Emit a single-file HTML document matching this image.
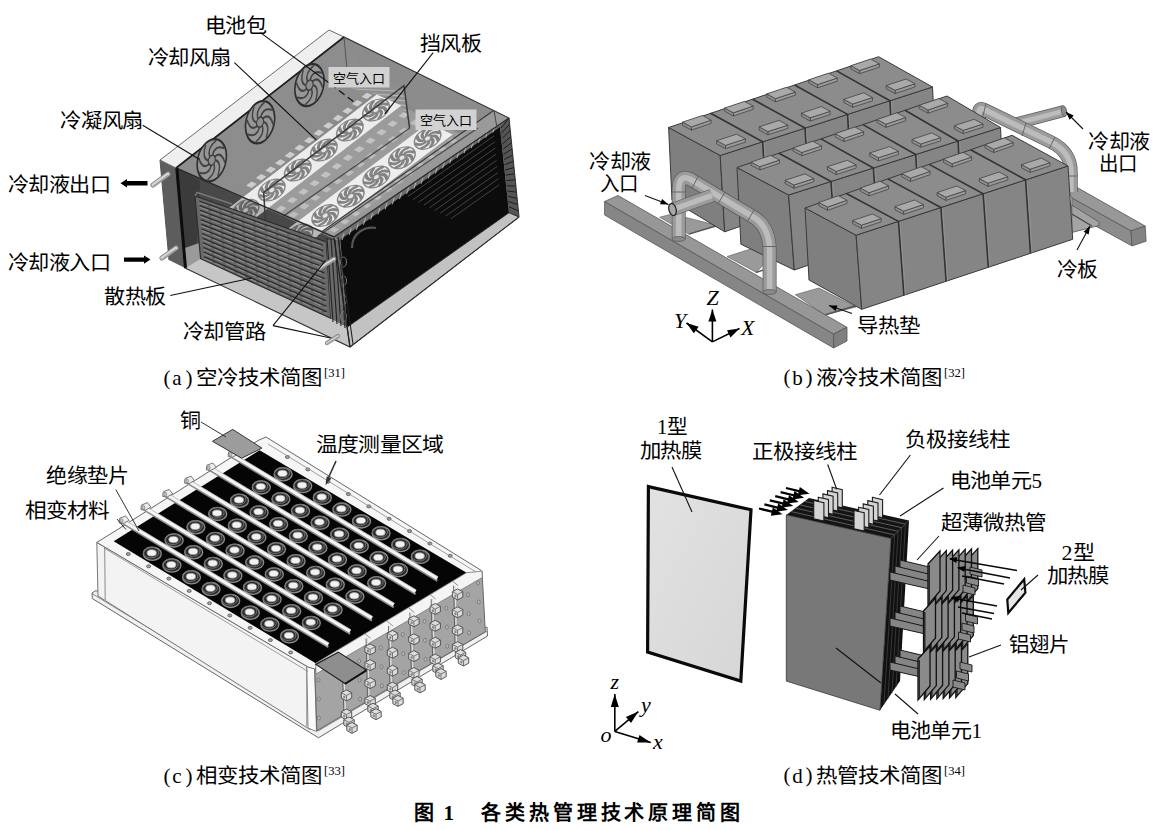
<!DOCTYPE html>
<html lang="zh-CN">
<head>
<meta charset="utf-8">
<title>图1 各类热管理技术原理简图</title>
<style>
html,body{margin:0;padding:0;background:#fff;}
body{width:1158px;height:830px;overflow:hidden;font-family:"Liberation Serif",serif;}
svg{display:block;}
.s{font-family:"Liberation Serif",serif;fill:#000;}
.si{font-family:"Liberation Serif",serif;font-style:italic;fill:#000;}
.sb{font-family:"Liberation Serif",serif;font-weight:bold;fill:#000;}
.h{font-family:"Liberation Sans",sans-serif;font-weight:bold;fill:#000;}
</style>
</head>
<body>
<svg width="1158" height="830" viewBox="0 0 1158 830">
<defs>
<g id="fanL"><circle r="10" fill="#ededed" stroke="#8a8a8a" stroke-width="1.2"/><path d="M2.6 0Q7.1 1.1 5.7 7.2M1.8 1.8Q4.3 5.8 -1.1 9.1M0 2.6Q-1.1 7.1 -7.2 5.7M-1.8 1.8Q-5.8 4.3 -9.1 -1.1M-2.6 0Q-7.1 -1.1 -5.7 -7.2M-1.8 -1.8Q-4.3 -5.8 1.1 -9.1M-0 -2.6Q1.1 -7.1 7.2 -5.7M1.8 -1.8Q5.8 -4.3 9.1 1.1" fill="none" stroke="#838383" stroke-width="2.5" stroke-linecap="round"/><circle r="2.4" fill="#e4e4e4" stroke="#8a8a8a" stroke-width="0.9"/></g>
<g id="fanD"><circle r="10" fill="#979797" stroke="#2e2e2e" stroke-width="1.1"/><path d="M2.6 0Q7.1 1.1 5.7 7.2M1.8 1.8Q4.3 5.8 -1.1 9.1M0 2.6Q-1.1 7.1 -7.2 5.7M-1.8 1.8Q-5.8 4.3 -9.1 -1.1M-2.6 0Q-7.1 -1.1 -5.7 -7.2M-1.8 -1.8Q-4.3 -5.8 1.1 -9.1M-0 -2.6Q1.1 -7.1 7.2 -5.7M1.8 -1.8Q5.8 -4.3 9.1 1.1" fill="none" stroke="#444" stroke-width="1.0" stroke-linecap="round"/><circle r="2.4" fill="#8f8f8f" stroke="#3a3a3a" stroke-width="0.8"/></g>
<linearGradient id="aTop" x1="0" y1="0" x2="1" y2="0"><stop offset="0" stop-color="#7e7e7e"/><stop offset="1" stop-color="#8e8e8e"/></linearGradient>
<clipPath id="aHR"><polygon points="350,88 404,86 410,127 401.3,105.6 376.7,94.4"/></clipPath>
<clipPath id="aBox"><polygon points="176,168 344,37 509,118 519,217 350,347 185,268"/></clipPath>
<linearGradient id="bSide" x1="0" y1="0" x2="1" y2="0"><stop offset="0" stop-color="#838383"/><stop offset="1" stop-color="#8a8a8a"/></linearGradient>
<g id="term"><ellipse cx="0.6" cy="0.8" rx="9" ry="6.6" fill="#2a2a2a" stroke="#8d8d8d" stroke-width="1.3"/><ellipse cx="-0.6" cy="-0.4" rx="7.6" ry="5.4" fill="none" stroke="#6f6f6f" stroke-width="1"/><ellipse cx="0" cy="0" rx="4.7" ry="3.2" fill="#f2f2f2" stroke="#9a9a9a" stroke-width="0.8"/></g>
<g id="hole"><ellipse rx="2" ry="1.5" fill="#a8a8a8" stroke="#4f4f4f" stroke-width="0.8"/></g>
<g id="clamp"><path d="M-5.2 -2L0 -4.8L5.2 -2L5.2 3.4L0 6.2L-5.2 3.4Z" fill="#dcdcdc" stroke="#4a4a4a" stroke-width="0.9"/><path d="M-5.2 -2L0 0.8L5.2 -2M0 0.8L0 6.2" fill="none" stroke="#5a5a5a" stroke-width="0.8"/><ellipse cx="-2.2" cy="2.2" rx="1.2" ry="1.5" fill="#8a8a8a"/></g>
<linearGradient id="dFilm" x1="0" y1="0" x2="1" y2="1"><stop offset="0" stop-color="#e2e2e2"/><stop offset="1" stop-color="#d6d6d6"/></linearGradient>
</defs>
<g id="panel_a">
<polygon points="176,168 344,37 509,118 519,217 350,347 185,268" fill="#898989"/>
<polygon points="176,168 344,37 376,92 236,200" fill="#8d8d8d"/>
<polygon points="344,37 509,118 484,134 376,92" fill="#8c8c8c"/>
<polygon points="176,168 334,239 345,332 185,268" fill="#484848"/>
<polygon points="176,168 200,181 196,255 185,268" fill="#3b3b3b"/>
<polygon points="185,248 199,243 201,259 185,268" fill="#9a9a9a"/>
<polygon points="185,268 200.6,258.7 330.8,318.2 347,327 350,347" fill="#c6c6c6"/>
<polygon points="376.7,94.4 243,197.2 330.7,235.6 463.7,135.4" fill="#9b9b9b"/>
<polygon points="350,88 404,86 410,127 401.3,105.6 376.7,94.4" fill="#8f8f8f"/>
<line x1="352" y1="89" x2="408" y2="91.5" stroke="#b4b4b4" stroke-width="1.2" clip-path="url(#aHR)"/>
<line x1="354.2" y1="92.6" x2="408" y2="96.3" stroke="#b4b4b4" stroke-width="1.2" clip-path="url(#aHR)"/>
<line x1="356.4" y1="96.2" x2="408" y2="101.1" stroke="#b4b4b4" stroke-width="1.2" clip-path="url(#aHR)"/>
<line x1="358.6" y1="99.8" x2="408" y2="105.9" stroke="#b4b4b4" stroke-width="1.2" clip-path="url(#aHR)"/>
<line x1="360.8" y1="103.4" x2="408" y2="110.7" stroke="#b4b4b4" stroke-width="1.2" clip-path="url(#aHR)"/>
<line x1="363" y1="107" x2="408" y2="115.5" stroke="#b4b4b4" stroke-width="1.2" clip-path="url(#aHR)"/>
<line x1="365.2" y1="110.6" x2="408" y2="120.3" stroke="#b4b4b4" stroke-width="1.2" clip-path="url(#aHR)"/>
<line x1="367.4" y1="114.2" x2="408" y2="125.1" stroke="#b4b4b4" stroke-width="1.2" clip-path="url(#aHR)"/>
<line x1="369.6" y1="117.8" x2="408" y2="129.9" stroke="#b4b4b4" stroke-width="1.2" clip-path="url(#aHR)"/>
<polygon points="494,110.3 509,118 334,237 322,231.5" fill="#a6a6a6" opacity="0.55"/>
<polygon points="366.8,92.7 361.6,96.7 367,99.1 372.2,95.1" fill="#cdcdcd"/>
<polygon points="357.2,100.1 352,104.1 357.4,106.5 362.6,102.5" fill="#cdcdcd"/>
<polygon points="347.6,107.4 342.3,111.5 347.7,113.9 353,109.9" fill="#cdcdcd"/>
<polygon points="337.9,114.8 332.7,118.9 338.1,121.3 343.4,117.3" fill="#cdcdcd"/>
<polygon points="328.3,122.2 323.1,126.3 328.5,128.7 333.7,124.7" fill="#cdcdcd"/>
<polygon points="318.7,129.6 313.5,133.7 318.9,136.1 324.1,132.1" fill="#cdcdcd"/>
<polygon points="309.1,137 303.9,141.1 309.3,143.5 314.5,139.5" fill="#cdcdcd"/>
<polygon points="299.5,144.4 294.2,148.5 299.7,150.9 304.9,146.9" fill="#cdcdcd"/>
<polygon points="289.9,151.8 284.6,155.9 290,158.3 295.3,154.3" fill="#cdcdcd"/>
<polygon points="280.2,159.2 275,163.3 280.4,165.7 285.6,161.7" fill="#cdcdcd"/>
<polygon points="270.6,166.6 265.4,170.6 270.8,173.1 276,169.1" fill="#cdcdcd"/>
<polygon points="261,174 255.8,178 261.2,180.5 266.4,176.5" fill="#cdcdcd"/>
<polygon points="251.4,181.4 246.1,185.4 251.6,187.9 256.8,183.9" fill="#cdcdcd"/>
<polygon points="403.6,111.9 398.5,115.9 403.9,118.3 409.1,114.4" fill="#c2c2c2"/>
<polygon points="392.5,120.5 387.3,124.4 392.7,126.9 397.9,122.9" fill="#c2c2c2"/>
<polygon points="381.4,129 376.2,132.9 381.6,135.4 386.8,131.4" fill="#c2c2c2"/>
<polygon points="370.2,137.5 365,141.4 370.5,143.9 375.6,139.9" fill="#c2c2c2"/>
<polygon points="359.1,146 353.9,150 359.3,152.4 364.5,148.5" fill="#c2c2c2"/>
<polygon points="347.9,154.5 342.8,158.5 348.2,160.9 353.3,157" fill="#c2c2c2"/>
<polygon points="336.8,163 331.6,167 337,169.4 342.2,165.5" fill="#c2c2c2"/>
<polygon points="325.6,171.6 320.5,175.5 325.9,178 331.1,174" fill="#c2c2c2"/>
<polygon points="314.5,180.1 309.3,184 314.7,186.5 319.9,182.5" fill="#c2c2c2"/>
<polygon points="303.4,188.6 298.2,192.5 303.6,195 308.8,191.1" fill="#c2c2c2"/>
<polygon points="292.2,197.1 287,201.1 292.5,203.5 297.6,199.6" fill="#c2c2c2"/>
<polygon points="281.1,205.6 275.9,209.6 281.3,212 286.5,208.1" fill="#c2c2c2"/>
<polygon points="414.9,119.3 409.8,123.2 415.2,125.7 420.4,121.7" fill="#bcbcbc"/>
<polygon points="403.9,127.7 398.7,131.6 404.1,134 409.3,130.1" fill="#bcbcbc"/>
<polygon points="392.8,136 387.6,140 393.1,142.4 398.2,138.5" fill="#bcbcbc"/>
<polygon points="381.8,144.4 376.6,148.3 382,150.8 387.2,146.9" fill="#bcbcbc"/>
<polygon points="370.7,152.8 365.5,156.7 370.9,159.2 376.1,155.3" fill="#bcbcbc"/>
<polygon points="359.6,161.2 354.5,165.1 359.9,167.6 365.1,163.6" fill="#bcbcbc"/>
<polygon points="348.6,169.6 343.4,173.5 348.8,176 354,172" fill="#bcbcbc"/>
<polygon points="337.5,177.9 332.3,181.9 337.7,184.3 342.9,180.4" fill="#bcbcbc"/>
<polygon points="326.5,186.3 321.3,190.3 326.7,192.7 331.9,188.8" fill="#bcbcbc"/>
<polygon points="315.4,194.7 310.2,198.6 315.6,201.1 320.8,197.2" fill="#bcbcbc"/>
<polygon points="304.3,203.1 299.1,207 304.6,209.5 309.7,205.6" fill="#bcbcbc"/>
<polygon points="293.3,211.5 288.1,215.4 293.5,217.9 298.7,213.9" fill="#bcbcbc"/>
<polygon points="451.8,137.8 447.4,141.1 452.8,143.5 457.2,140.2" fill="#bdbdbd"/>
<polygon points="441.1,145.9 436.7,149.2 442.1,151.6 446.5,148.3" fill="#bdbdbd"/>
<polygon points="430.3,154 425.9,157.3 431.3,159.7 435.7,156.4" fill="#bdbdbd"/>
<polygon points="419.6,162.1 415.2,165.4 420.6,167.8 425,164.5" fill="#bdbdbd"/>
<polygon points="408.8,170.2 404.4,173.5 409.8,175.9 414.2,172.6" fill="#bdbdbd"/>
<polygon points="398.1,178.3 393.7,181.6 399.1,184 403.5,180.7" fill="#bdbdbd"/>
<polygon points="387.3,186.4 382.9,189.7 388.3,192.1 392.7,188.8" fill="#bdbdbd"/>
<polygon points="376.6,194.5 372.2,197.8 377.6,200.2 382,196.9" fill="#bdbdbd"/>
<polygon points="365.8,202.6 361.4,205.9 366.8,208.3 371.2,205" fill="#bdbdbd"/>
<polygon points="355,210.7 350.7,214 356.1,216.4 360.5,213.1" fill="#bdbdbd"/>
<polygon points="344.3,218.8 339.9,222.1 345.3,224.5 349.7,221.2" fill="#bdbdbd"/>
<polygon points="333.5,226.9 329.1,230.2 334.6,232.6 339,229.3" fill="#bdbdbd"/>
<polygon points="376.7,94.4 401.3,105.6 245,225.8 220.4,214.6" fill="#ececec"/>
<polygon points="428.1,123.2 452.7,134.4 299.1,250.1 274.5,238.9" fill="#eeeeee"/>
<use href="#fanL" transform="translate(376 110) rotate(-30) scale(1.42 0.95)"/>
<use href="#fanL" transform="translate(349.9 130.1) rotate(-30) scale(1.42 0.95)"/>
<use href="#fanL" transform="translate(323.9 150.1) rotate(-30) scale(1.42 0.95)"/>
<use href="#fanL" transform="translate(297.8 170.1) rotate(-30) scale(1.42 0.95)"/>
<use href="#fanL" transform="translate(271.8 190.1) rotate(-30) scale(1.42 0.95)"/>
<use href="#fanL" transform="translate(245.7 210.2) rotate(-30) scale(1.42 0.95)"/>
<use href="#fanL" transform="translate(427.6 138.4) rotate(-30) scale(1.42 0.95)"/>
<use href="#fanL" transform="translate(402 157.7) rotate(-30) scale(1.42 0.95)"/>
<use href="#fanL" transform="translate(376.4 177) rotate(-30) scale(1.42 0.95)"/>
<use href="#fanL" transform="translate(350.8 196.3) rotate(-30) scale(1.42 0.95)"/>
<use href="#fanL" transform="translate(325.2 215.6) rotate(-30) scale(1.42 0.95)"/>
<use href="#fanL" transform="translate(299.6 234.9) rotate(-30) scale(1.42 0.95)"/>
<polygon points="243,197.2 267.9,208.2 245,225.8 220.4,214.6" fill="#000" opacity="0.22"/>
<polygon points="297.9,221.2 322.9,232.2 299.1,250.1 274.5,238.9" fill="#000" opacity="0.22"/>
<polyline points="409.6,128.3 404,85.6 263.7,192.3 265.9,228.2" fill="none" stroke="#3c3c3c" stroke-width="1.5"/>
<line x1="409.6" y1="128.3" x2="265.9" y2="228.2" stroke="#4a4a4a" stroke-width="1.3"/>
<line x1="478" y1="128" x2="318" y2="236" stroke="#4a4a4a" stroke-width="1.2"/>
<polygon points="195,196 326.4,242 330.8,318.2 200.6,258.7" fill="#686868" stroke="#2e2e2e" stroke-width="1.2"/>
<line x1="199.3" y1="201.1" x2="322.8" y2="245.1" stroke="#303030" stroke-width="1.5"/>
<line x1="199.3" y1="202.7" x2="322.8" y2="246.7" stroke="#8a8a8a" stroke-width="1.1" stroke-dasharray="9 3"/>
<line x1="199.7" y1="205.7" x2="323.2" y2="250.7" stroke="#303030" stroke-width="1.5"/>
<line x1="199.7" y1="207.3" x2="323.2" y2="252.3" stroke="#8a8a8a" stroke-width="1.1" stroke-dasharray="9 3"/>
<line x1="200.1" y1="210.4" x2="323.5" y2="256.3" stroke="#303030" stroke-width="1.5"/>
<line x1="200.1" y1="212" x2="323.5" y2="257.9" stroke="#8a8a8a" stroke-width="1.1" stroke-dasharray="9 3"/>
<line x1="200.5" y1="215" x2="323.8" y2="261.8" stroke="#303030" stroke-width="1.5"/>
<line x1="200.5" y1="216.6" x2="323.8" y2="263.4" stroke="#8a8a8a" stroke-width="1.1" stroke-dasharray="9 3"/>
<line x1="200.9" y1="219.7" x2="324.1" y2="267.4" stroke="#303030" stroke-width="1.5"/>
<line x1="200.9" y1="221.3" x2="324.1" y2="269" stroke="#8a8a8a" stroke-width="1.1" stroke-dasharray="9 3"/>
<line x1="201.3" y1="224.3" x2="324.5" y2="273" stroke="#303030" stroke-width="1.5"/>
<line x1="201.3" y1="225.9" x2="324.5" y2="274.6" stroke="#8a8a8a" stroke-width="1.1" stroke-dasharray="9 3"/>
<line x1="201.7" y1="228.9" x2="324.8" y2="278.6" stroke="#303030" stroke-width="1.5"/>
<line x1="201.7" y1="230.5" x2="324.8" y2="280.2" stroke="#8a8a8a" stroke-width="1.1" stroke-dasharray="9 3"/>
<line x1="202.1" y1="233.6" x2="325.1" y2="284.1" stroke="#303030" stroke-width="1.5"/>
<line x1="202.1" y1="235.2" x2="325.1" y2="285.7" stroke="#8a8a8a" stroke-width="1.1" stroke-dasharray="9 3"/>
<line x1="202.5" y1="238.2" x2="325.4" y2="289.7" stroke="#303030" stroke-width="1.5"/>
<line x1="202.5" y1="239.8" x2="325.4" y2="291.3" stroke="#8a8a8a" stroke-width="1.1" stroke-dasharray="9 3"/>
<line x1="203" y1="242.9" x2="325.8" y2="295.3" stroke="#303030" stroke-width="1.5"/>
<line x1="203" y1="244.5" x2="325.8" y2="296.9" stroke="#8a8a8a" stroke-width="1.1" stroke-dasharray="9 3"/>
<line x1="203.4" y1="247.5" x2="326.1" y2="300.9" stroke="#303030" stroke-width="1.5"/>
<line x1="203.4" y1="249.1" x2="326.1" y2="302.5" stroke="#8a8a8a" stroke-width="1.1" stroke-dasharray="9 3"/>
<line x1="203.8" y1="252.1" x2="326.4" y2="306.4" stroke="#303030" stroke-width="1.5"/>
<line x1="203.8" y1="253.7" x2="326.4" y2="308" stroke="#8a8a8a" stroke-width="1.1" stroke-dasharray="9 3"/>
<line x1="204.2" y1="256.8" x2="326.8" y2="312" stroke="#303030" stroke-width="1.5"/>
<line x1="204.2" y1="258.4" x2="326.8" y2="313.6" stroke="#8a8a8a" stroke-width="1.1" stroke-dasharray="9 3"/>
<polyline points="195,196 197,192.5 232,204" fill="none" stroke="#777" stroke-width="1.5"/>
<polygon points="326.4,240 340,240 347,327 330.8,318.2" fill="#6a6a6a"/>
<line x1="327" y1="238" x2="333" y2="322" stroke="#222" stroke-width="1.1"/>
<line x1="331" y1="238.8" x2="337" y2="324" stroke="#222" stroke-width="1.1"/>
<line x1="335" y1="239.6" x2="341" y2="326" stroke="#222" stroke-width="1.1"/>
<line x1="339" y1="240.4" x2="345" y2="328" stroke="#222" stroke-width="1.1"/>
<polygon points="334,237 509,118 503,127 340.4,241" fill="#6e6e6e"/>
<polygon points="340.4,239.6 500,127 509,212.7 347.1,327.2" fill="#0c0c0c"/>
<line x1="407.8" y1="196.6" x2="494.1" y2="135.8" stroke="#4a4a4a" stroke-width="0.9"/>
<line x1="413.2" y1="199.5" x2="494.7" y2="141.9" stroke="#4a4a4a" stroke-width="0.9"/>
<line x1="418.5" y1="202.3" x2="495.3" y2="148" stroke="#4a4a4a" stroke-width="0.9"/>
<line x1="423.9" y1="205.1" x2="496" y2="154.2" stroke="#4a4a4a" stroke-width="0.9"/>
<line x1="429.3" y1="207.9" x2="496.6" y2="160.3" stroke="#4a4a4a" stroke-width="0.9"/>
<line x1="434.6" y1="210.6" x2="497.2" y2="166.4" stroke="#4a4a4a" stroke-width="0.9"/>
<line x1="440" y1="213.4" x2="497.9" y2="172.6" stroke="#4a4a4a" stroke-width="0.9"/>
<line x1="445.4" y1="216.2" x2="498.5" y2="178.7" stroke="#4a4a4a" stroke-width="0.9"/>
<line x1="450.8" y1="218.9" x2="499.2" y2="184.8" stroke="#4a4a4a" stroke-width="0.9"/>
<line x1="342" y1="240" x2="344" y2="233.5" stroke="#bdbdbd" stroke-width="0.9"/>
<line x1="349.2" y1="234.9" x2="351.2" y2="228.4" stroke="#bdbdbd" stroke-width="0.9"/>
<line x1="356.4" y1="229.8" x2="358.4" y2="223.3" stroke="#bdbdbd" stroke-width="0.9"/>
<line x1="363.5" y1="224.7" x2="365.5" y2="218.2" stroke="#bdbdbd" stroke-width="0.9"/>
<line x1="370.7" y1="219.5" x2="372.7" y2="213" stroke="#bdbdbd" stroke-width="0.9"/>
<line x1="377.9" y1="214.4" x2="379.9" y2="207.9" stroke="#bdbdbd" stroke-width="0.9"/>
<line x1="385.1" y1="209.3" x2="387.1" y2="202.8" stroke="#bdbdbd" stroke-width="0.9"/>
<line x1="392.3" y1="204.2" x2="394.3" y2="197.7" stroke="#bdbdbd" stroke-width="0.9"/>
<line x1="399.5" y1="199.1" x2="401.5" y2="192.6" stroke="#bdbdbd" stroke-width="0.9"/>
<line x1="406.6" y1="194" x2="408.6" y2="187.5" stroke="#bdbdbd" stroke-width="0.9"/>
<line x1="413.8" y1="188.9" x2="415.8" y2="182.4" stroke="#bdbdbd" stroke-width="0.9"/>
<line x1="421" y1="183.8" x2="423" y2="177.2" stroke="#bdbdbd" stroke-width="0.9"/>
<line x1="428.2" y1="178.6" x2="430.2" y2="172.1" stroke="#bdbdbd" stroke-width="0.9"/>
<line x1="435.4" y1="173.5" x2="437.4" y2="167" stroke="#bdbdbd" stroke-width="0.9"/>
<line x1="442.5" y1="168.4" x2="444.5" y2="161.9" stroke="#bdbdbd" stroke-width="0.9"/>
<line x1="449.7" y1="163.3" x2="451.7" y2="156.8" stroke="#bdbdbd" stroke-width="0.9"/>
<line x1="456.9" y1="158.2" x2="458.9" y2="151.7" stroke="#bdbdbd" stroke-width="0.9"/>
<line x1="464.1" y1="153.1" x2="466.1" y2="146.6" stroke="#bdbdbd" stroke-width="0.9"/>
<line x1="471.3" y1="148" x2="473.3" y2="141.5" stroke="#bdbdbd" stroke-width="0.9"/>
<line x1="478.5" y1="142.8" x2="480.5" y2="136.3" stroke="#bdbdbd" stroke-width="0.9"/>
<line x1="485.6" y1="137.7" x2="487.6" y2="131.2" stroke="#bdbdbd" stroke-width="0.9"/>
<line x1="492.8" y1="132.6" x2="494.8" y2="126.1" stroke="#bdbdbd" stroke-width="0.9"/>
<polygon points="500,127 509,118 519,217 509,212.7" fill="#555"/>
<line x1="501" y1="128" x2="509" y2="118" stroke="#1c1c1c" stroke-width="1"/>
<line x1="501.5" y1="133.2" x2="509.6" y2="124.2" stroke="#1c1c1c" stroke-width="1"/>
<line x1="502.1" y1="138.5" x2="510.2" y2="130.4" stroke="#1c1c1c" stroke-width="1"/>
<line x1="502.6" y1="143.8" x2="510.9" y2="136.6" stroke="#1c1c1c" stroke-width="1"/>
<line x1="503.1" y1="149" x2="511.5" y2="142.8" stroke="#1c1c1c" stroke-width="1"/>
<line x1="503.7" y1="154.2" x2="512.1" y2="148.9" stroke="#1c1c1c" stroke-width="1"/>
<line x1="504.2" y1="159.5" x2="512.8" y2="155.1" stroke="#1c1c1c" stroke-width="1"/>
<line x1="504.7" y1="164.8" x2="513.4" y2="161.3" stroke="#1c1c1c" stroke-width="1"/>
<line x1="505.2" y1="170" x2="514" y2="167.5" stroke="#1c1c1c" stroke-width="1"/>
<line x1="505.8" y1="175.2" x2="514.6" y2="173.7" stroke="#1c1c1c" stroke-width="1"/>
<line x1="506.3" y1="180.5" x2="515.2" y2="179.9" stroke="#1c1c1c" stroke-width="1"/>
<line x1="506.8" y1="185.8" x2="515.9" y2="186.1" stroke="#1c1c1c" stroke-width="1"/>
<line x1="507.4" y1="191" x2="516.5" y2="192.2" stroke="#1c1c1c" stroke-width="1"/>
<line x1="507.9" y1="196.2" x2="517.1" y2="198.4" stroke="#1c1c1c" stroke-width="1"/>
<line x1="508.4" y1="201.5" x2="517.8" y2="204.6" stroke="#1c1c1c" stroke-width="1"/>
<line x1="509" y1="206.8" x2="518.4" y2="210.8" stroke="#1c1c1c" stroke-width="1"/>
<polygon points="347.1,327.2 509,212.7 519,217 350,347" fill="#c2c2c2" stroke="#2a2a2a" stroke-width="1"/>
<ellipse cx="343.5" cy="262" rx="3" ry="5" fill="none" stroke="#7a7a7a" stroke-width="1"/>
<ellipse cx="343.5" cy="280.9" rx="3" ry="5" fill="none" stroke="#7a7a7a" stroke-width="1"/>
<ellipse cx="343.5" cy="299.8" rx="3" ry="5" fill="none" stroke="#7a7a7a" stroke-width="1"/>
<ellipse cx="343.5" cy="316.6" rx="3" ry="5" fill="none" stroke="#7a7a7a" stroke-width="1"/>
<path d="M352 248C352 232 366 226 376 228" fill="none" stroke="#555" stroke-width="2.2"/>
<polyline points="176,168 344,37 509,118 519,217 350,347 185,268" fill="none" stroke="#333" stroke-width="1.1"/>
<line x1="176" y1="168" x2="334" y2="237" stroke="#2a2a2a" stroke-width="1.4"/>
<line x1="334" y1="237" x2="509" y2="118" stroke="#2a2a2a" stroke-width="1.4"/>
<line x1="322" y1="231.5" x2="494" y2="110.3" stroke="#3a3a3a" stroke-width="1.2"/>
<line x1="494" y1="110.3" x2="497" y2="128" stroke="#444" stroke-width="1"/>
<line x1="334" y1="238" x2="350" y2="347" stroke="#222" stroke-width="1.3"/>
<line x1="338" y1="237" x2="353" y2="344" stroke="#222" stroke-width="1.1"/>
<line x1="344" y1="37" x2="348" y2="80" stroke="#555" stroke-width="1"/>
<polygon points="160,160 176,168 185,268 169,260" fill="#5d5d5d"/>
<polygon points="160,160 329,30 344,37 176,168" fill="#efefef" stroke="#6a6a6a" stroke-width="1"/>
<line x1="176.8" y1="168" x2="185.5" y2="268" stroke="#0d0d0d" stroke-width="3"/>
<line x1="176" y1="168" x2="344" y2="37" stroke="#1e1e1e" stroke-width="1.6"/>
<line x1="160" y1="160" x2="169" y2="260" stroke="#555" stroke-width="1"/>
<use href="#fanD" transform="translate(211.8 160.3) rotate(-52) skewX(-22) scale(1.95 1.55)"/>
<use href="#fanD" transform="translate(260.1 122.2) rotate(-52) skewX(-22) scale(1.95 1.55)"/>
<use href="#fanD" transform="translate(309.5 85.1) rotate(-52) skewX(-22) scale(1.95 1.55)"/>
<line x1="153" y1="185" x2="168" y2="174" stroke="#8a8a8a" stroke-width="5.2" stroke-linecap="round"/><line x1="153" y1="185" x2="168" y2="174" stroke="#d8d8d8" stroke-width="3" stroke-linecap="round"/><line x1="153.3" y1="186.2" x2="168.3" y2="175.2" stroke="#a0a0a0" stroke-width="1.4"/>
<line x1="162" y1="258" x2="176" y2="248" stroke="#8a8a8a" stroke-width="5.2" stroke-linecap="round"/><line x1="162" y1="258" x2="176" y2="248" stroke="#d8d8d8" stroke-width="3" stroke-linecap="round"/><line x1="162.3" y1="259.2" x2="176.3" y2="249.2" stroke="#a0a0a0" stroke-width="1.4"/>
<line x1="320" y1="268" x2="334" y2="259" stroke="#8a8a8a" stroke-width="4.6" stroke-linecap="round"/><line x1="320" y1="268" x2="334" y2="259" stroke="#d8d8d8" stroke-width="2.4" stroke-linecap="round"/><line x1="320.3" y1="269.2" x2="334.3" y2="260.2" stroke="#a0a0a0" stroke-width="1.4"/>
<line x1="327" y1="343" x2="338" y2="336" stroke="#8a8a8a" stroke-width="4.2" stroke-linecap="round"/><line x1="327" y1="343" x2="338" y2="336" stroke="#d8d8d8" stroke-width="2" stroke-linecap="round"/><line x1="327.3" y1="344.2" x2="338.3" y2="337.2" stroke="#a0a0a0" stroke-width="1.4"/>
<path d="M120.5 183.2L127 179L127 181L147.5 181L147.5 185.4L127 185.4L127 187.4Z" fill="#000"/>
<path d="M150.5 259.6L144 255.4L144 257.4L124 257.4L124 261.8L144 261.8L144 263.8Z" fill="#000"/>
<line x1="260.4" y1="32.6" x2="336" y2="88" stroke="#111" stroke-width="1.1"/>
<line x1="339" y1="90.5" x2="356" y2="103.5" stroke="#111" stroke-width="1.3" stroke-dasharray="7 4"/>
<line x1="234.4" y1="62.6" x2="316.5" y2="140.2" stroke="#111" stroke-width="1.1"/>
<line x1="142.7" y1="125.2" x2="199.3" y2="159.3" stroke="#111" stroke-width="1.1"/>
<line x1="433.2" y1="52.6" x2="384.7" y2="114.2" stroke="#111" stroke-width="1.1"/>
<line x1="170.3" y1="295.5" x2="251.9" y2="278" stroke="#111" stroke-width="1.1"/>
<line x1="273" y1="325.6" x2="325.6" y2="260.4" stroke="#111" stroke-width="1.1"/>
<line x1="273" y1="325.6" x2="330.6" y2="338" stroke="#111" stroke-width="1.1"/>
</g>
<g id="panel_b">
<polygon points="1071.8,197.9 1131,230.8 1132,245.9 1071.8,213" fill="#8c8c8c" stroke="#555" stroke-width="0.8"/>
<polygon points="1062,181 1075.5,186.6 1145.2,226.1 1131,230.8 1071.8,197.9" fill="#989898" stroke="#555" stroke-width="0.8"/>
<polygon points="1131,230.8 1145.2,226.1 1146.1,241.2 1132,245.9" fill="#838383" stroke="#555" stroke-width="0.8"/>
<polygon points="1071.8,205 1099,222 1099,225.5 1071.8,232.5" fill="#a4a4a4" stroke="#555" stroke-width="0.8"/>
<line x1="1071.8" y1="214" x2="1092" y2="226" stroke="#444" stroke-width="1.2"/>
<polygon points="659.6,217.3 672,213.9 715.7,225.1 688.8,234.1" fill="#9a9a9a" stroke="#666" stroke-width="0.7"/>
<polygon points="727,256.5 751.7,248.7 769.6,258.8 756.1,272.3" fill="#9a9a9a" stroke="#666" stroke-width="0.7"/>
<polygon points="795.4,294.7 819,288 856,307 824.7,315" fill="#9a9a9a" stroke="#666" stroke-width="0.7"/>
<line x1="688.8" y1="234.1" x2="716" y2="226" stroke="#555" stroke-width="1.4"/>
<line x1="756" y1="272.5" x2="772" y2="267" stroke="#555" stroke-width="1.4"/>
<line x1="824.7" y1="315" x2="858" y2="305" stroke="#555" stroke-width="1.4"/>
<path d="M1014 124L1064 111" fill="none" stroke="#5a5a5a" stroke-width="11.9" stroke-linejoin="round" /><path d="M1014 124L1064 111" fill="none" stroke="#9b9b9b" stroke-width="10.5" stroke-linejoin="round" /><path d="M1014 124L1064 111" fill="none" stroke="#bcbcbc" stroke-width="4.7" stroke-linejoin="round" />
<ellipse cx="1064" cy="111" rx="2.6" ry="5.4" fill="#8c8c8c" stroke="#5a5a5a" stroke-width="0.8" transform="rotate(-12 1064 111)"/>
<path d="M979 121L979 112Q979 107 984 109.5L1051 142Q1071 152 1071 172L1071 192" fill="none" stroke="#5a5a5a" stroke-width="13.4" stroke-linejoin="round" /><path d="M979 121L979 112Q979 107 984 109.5L1051 142Q1071 152 1071 172L1071 192" fill="none" stroke="#9b9b9b" stroke-width="12" stroke-linejoin="round" /><path d="M979 121L979 112Q979 107 984 109.5L1051 142Q1071 152 1071 172L1071 192" fill="none" stroke="#bcbcbc" stroke-width="5.4" stroke-linejoin="round" />
<line x1="986" y1="103.5" x2="983" y2="116" stroke="#666" stroke-width="1"/>
<line x1="1026" y1="123" x2="1022" y2="136" stroke="#666" stroke-width="1"/>
<line x1="1055" y1="137" x2="1049" y2="149" stroke="#666" stroke-width="1"/>
<line x1="1065" y1="176" x2="1078" y2="176" stroke="#666" stroke-width="1"/>
<polygon points="668.6,127.5 720.2,155.5 724.7,231.8 672,200" fill="#7f7f7f" stroke="#3a3a3a" stroke-width="1"/>
<polygon points="720.2,155.5 932.5,87 936,158 724.7,231.8" fill="#858585" stroke="#3a3a3a" stroke-width="1"/>
<polygon points="668.6,127.5 878.6,56.7 932.5,87 720.2,155.5" fill="#8c8c8c" stroke="#3a3a3a" stroke-width="1"/>
<polyline points="710.6,113.3 762.7,141.8 767,217" fill="none" stroke="#333" stroke-width="1.6"/>
<line x1="764.3" y1="142.8" x2="768.6" y2="216.5" stroke="#929292" stroke-width="1"/>
<polyline points="752.6,99.2 805.1,128.1 809.2,202.3" fill="none" stroke="#333" stroke-width="1.6"/>
<line x1="806.7" y1="129.1" x2="810.8" y2="201.8" stroke="#929292" stroke-width="1"/>
<polyline points="794.6,85 847.6,114.4 851.5,187.5" fill="none" stroke="#333" stroke-width="1.6"/>
<line x1="849.2" y1="115.4" x2="853.1" y2="187" stroke="#929292" stroke-width="1"/>
<polyline points="836.6,70.9 890,100.7 893.7,172.8" fill="none" stroke="#333" stroke-width="1.6"/>
<line x1="891.6" y1="101.7" x2="895.3" y2="172.3" stroke="#929292" stroke-width="1"/>
<polygon points="691.4,126.9 711.1,120.2 711.1,123.4 691.4,130.1" fill="#9a9a9a" stroke="#444" stroke-width="0.8"/>
<polygon points="682.6,122.1 691.4,126.9 691.4,130.1 682.6,125.3" fill="#8e8e8e" stroke="#444" stroke-width="0.8"/>
<polygon points="682.6,122.1 702.4,115.5 711.1,120.2 691.4,126.9" fill="#a9a9a9" stroke="#444" stroke-width="0.8"/>
<polygon points="725.5,145.4 745.4,138.9 745.4,142.1 725.5,148.6" fill="#9a9a9a" stroke="#444" stroke-width="0.8"/>
<polygon points="716.7,140.7 725.5,145.4 725.5,148.6 716.7,143.9" fill="#8e8e8e" stroke="#444" stroke-width="0.8"/>
<polygon points="716.7,140.7 736.6,134.2 745.4,138.9 725.5,145.4" fill="#a9a9a9" stroke="#444" stroke-width="0.8"/>
<polygon points="733.4,112.8 753.2,106.1 753.2,109.3 733.4,116" fill="#9a9a9a" stroke="#444" stroke-width="0.8"/>
<polygon points="724.6,108 733.4,112.8 733.4,116 724.6,111.2" fill="#8e8e8e" stroke="#444" stroke-width="0.8"/>
<polygon points="724.6,108 744.4,101.4 753.2,106.1 733.4,112.8" fill="#a9a9a9" stroke="#444" stroke-width="0.8"/>
<polygon points="767.9,131.6 787.8,125.2 787.8,128.4 767.9,134.8" fill="#9a9a9a" stroke="#444" stroke-width="0.8"/>
<polygon points="759.1,126.9 767.9,131.6 767.9,134.8 759.1,130.1" fill="#8e8e8e" stroke="#444" stroke-width="0.8"/>
<polygon points="759.1,126.9 779,120.4 787.8,125.2 767.9,131.6" fill="#a9a9a9" stroke="#444" stroke-width="0.8"/>
<polygon points="775.5,98.7 795.3,92 795.3,95.2 775.5,101.9" fill="#9a9a9a" stroke="#444" stroke-width="0.8"/>
<polygon points="766.7,93.9 775.5,98.7 775.5,101.9 766.7,97.1" fill="#8e8e8e" stroke="#444" stroke-width="0.8"/>
<polygon points="766.7,93.9 786.5,87.3 795.3,92 775.5,98.7" fill="#a9a9a9" stroke="#444" stroke-width="0.8"/>
<polygon points="810.2,117.8 830.1,111.4 830.1,114.6 810.2,121" fill="#9a9a9a" stroke="#444" stroke-width="0.8"/>
<polygon points="801.5,113.1 810.2,117.8 810.2,121 801.5,116.3" fill="#8e8e8e" stroke="#444" stroke-width="0.8"/>
<polygon points="801.5,113.1 821.4,106.6 830.1,111.4 810.2,117.8" fill="#a9a9a9" stroke="#444" stroke-width="0.8"/>
<polygon points="817.6,84.6 837.3,78 837.3,81.2 817.6,87.8" fill="#9a9a9a" stroke="#444" stroke-width="0.8"/>
<polygon points="808.8,79.8 817.6,84.6 817.6,87.8 808.8,83" fill="#8e8e8e" stroke="#444" stroke-width="0.8"/>
<polygon points="808.8,79.8 828.5,73.2 837.3,78 817.6,84.6" fill="#a9a9a9" stroke="#444" stroke-width="0.8"/>
<polygon points="852.6,104 872.5,97.6 872.5,100.8 852.6,107.2" fill="#9a9a9a" stroke="#444" stroke-width="0.8"/>
<polygon points="843.8,99.3 852.6,104 852.6,107.2 843.8,102.5" fill="#8e8e8e" stroke="#444" stroke-width="0.8"/>
<polygon points="843.8,99.3 863.7,92.8 872.5,97.6 852.6,104" fill="#a9a9a9" stroke="#444" stroke-width="0.8"/>
<polygon points="859.6,70.5 879.4,63.9 879.4,67.1 859.6,73.7" fill="#9a9a9a" stroke="#444" stroke-width="0.8"/>
<polygon points="850.8,65.7 859.6,70.5 859.6,73.7 850.8,68.9" fill="#8e8e8e" stroke="#444" stroke-width="0.8"/>
<polygon points="850.8,65.7 870.6,59.1 879.4,63.9 859.6,70.5" fill="#a9a9a9" stroke="#444" stroke-width="0.8"/>
<polygon points="895,90.3 914.9,83.8 914.9,87 895,93.5" fill="#9a9a9a" stroke="#444" stroke-width="0.8"/>
<polygon points="886.2,85.5 895,90.3 895,93.5 886.2,88.7" fill="#8e8e8e" stroke="#444" stroke-width="0.8"/>
<polygon points="886.2,85.5 906.1,79 914.9,83.8 895,90.3" fill="#a9a9a9" stroke="#444" stroke-width="0.8"/>
<polygon points="737,167.5 788.6,195 794.3,270 740.9,244.2" fill="#7f7f7f" stroke="#3a3a3a" stroke-width="1"/>
<polygon points="788.6,195 1000.5,127.5 1004,198 794.3,270" fill="#858585" stroke="#3a3a3a" stroke-width="1"/>
<polygon points="737,167.5 947,96 1000.5,127.5 788.6,195" fill="#8c8c8c" stroke="#3a3a3a" stroke-width="1"/>
<polyline points="779,153.2 831,181.5 836.2,255.6" fill="none" stroke="#333" stroke-width="1.6"/>
<line x1="832.6" y1="182.5" x2="837.8" y2="255.1" stroke="#929292" stroke-width="1"/>
<polyline points="821,138.9 873.4,168 878.2,241.2" fill="none" stroke="#333" stroke-width="1.6"/>
<line x1="875" y1="169" x2="879.8" y2="240.7" stroke="#929292" stroke-width="1"/>
<polyline points="863,124.6 915.7,154.5 920.1,226.8" fill="none" stroke="#333" stroke-width="1.6"/>
<line x1="917.3" y1="155.5" x2="921.7" y2="226.3" stroke="#929292" stroke-width="1"/>
<polyline points="905,110.3 958.1,141 962.1,212.4" fill="none" stroke="#333" stroke-width="1.6"/>
<line x1="959.7" y1="142" x2="963.7" y2="211.9" stroke="#929292" stroke-width="1"/>
<polygon points="759.8,166.7 779.5,160.1 779.5,163.3 759.8,169.9" fill="#9a9a9a" stroke="#444" stroke-width="0.8"/>
<polygon points="751,162.1 759.8,166.7 759.8,169.9 751,165.3" fill="#8e8e8e" stroke="#444" stroke-width="0.8"/>
<polygon points="751,162.1 770.7,155.4 779.5,160.1 759.8,166.7" fill="#a9a9a9" stroke="#444" stroke-width="0.8"/>
<polygon points="793.9,185 813.8,178.6 813.8,181.8 793.9,188.2" fill="#9a9a9a" stroke="#444" stroke-width="0.8"/>
<polygon points="785.1,180.3 793.9,185 793.9,188.2 785.1,183.5" fill="#8e8e8e" stroke="#444" stroke-width="0.8"/>
<polygon points="785.1,180.3 805,173.9 813.8,178.6 793.9,185" fill="#a9a9a9" stroke="#444" stroke-width="0.8"/>
<polygon points="801.8,152.5 821.6,145.9 821.6,149.1 801.8,155.7" fill="#9a9a9a" stroke="#444" stroke-width="0.8"/>
<polygon points="793,147.9 801.8,152.5 801.8,155.7 793,151.1" fill="#8e8e8e" stroke="#444" stroke-width="0.8"/>
<polygon points="793,147.9 812.8,141.2 821.6,145.9 801.8,152.5" fill="#a9a9a9" stroke="#444" stroke-width="0.8"/>
<polygon points="836.2,171.4 856.1,164.9 856.1,168.1 836.2,174.6" fill="#9a9a9a" stroke="#444" stroke-width="0.8"/>
<polygon points="827.4,166.7 836.2,171.4 836.2,174.6 827.4,169.9" fill="#8e8e8e" stroke="#444" stroke-width="0.8"/>
<polygon points="827.4,166.7 847.3,160.3 856.1,164.9 836.2,171.4" fill="#a9a9a9" stroke="#444" stroke-width="0.8"/>
<polygon points="843.9,138.4 863.6,131.7 863.6,134.9 843.9,141.6" fill="#9a9a9a" stroke="#444" stroke-width="0.8"/>
<polygon points="835.1,133.7 843.9,138.4 843.9,141.6 835.1,136.9" fill="#8e8e8e" stroke="#444" stroke-width="0.8"/>
<polygon points="835.1,133.7 854.9,127 863.6,131.7 843.9,138.4" fill="#a9a9a9" stroke="#444" stroke-width="0.8"/>
<polygon points="878.5,157.7 898.4,151.3 898.4,154.5 878.5,160.9" fill="#9a9a9a" stroke="#444" stroke-width="0.8"/>
<polygon points="869.7,153 878.5,157.7 878.5,160.9 869.7,156.2" fill="#8e8e8e" stroke="#444" stroke-width="0.8"/>
<polygon points="869.7,153 889.6,146.6 898.4,151.3 878.5,157.7" fill="#a9a9a9" stroke="#444" stroke-width="0.8"/>
<polygon points="885.9,124.2 905.7,117.5 905.7,120.7 885.9,127.4" fill="#9a9a9a" stroke="#444" stroke-width="0.8"/>
<polygon points="877.1,119.5 885.9,124.2 885.9,127.4 877.1,122.7" fill="#8e8e8e" stroke="#444" stroke-width="0.8"/>
<polygon points="877.1,119.5 896.9,112.8 905.7,117.5 885.9,124.2" fill="#a9a9a9" stroke="#444" stroke-width="0.8"/>
<polygon points="920.8,144 940.7,137.6 940.7,140.8 920.8,147.2" fill="#9a9a9a" stroke="#444" stroke-width="0.8"/>
<polygon points="912,139.4 920.8,144 920.8,147.2 912,142.6" fill="#8e8e8e" stroke="#444" stroke-width="0.8"/>
<polygon points="912,139.4 931.9,132.9 940.7,137.6 920.8,144" fill="#a9a9a9" stroke="#444" stroke-width="0.8"/>
<polygon points="928,110 947.7,103.3 947.7,106.5 928,113.2" fill="#9a9a9a" stroke="#444" stroke-width="0.8"/>
<polygon points="919.2,105.3 928,110 928,113.2 919.2,108.5" fill="#8e8e8e" stroke="#444" stroke-width="0.8"/>
<polygon points="919.2,105.3 939,98.6 947.7,103.3 928,110" fill="#a9a9a9" stroke="#444" stroke-width="0.8"/>
<polygon points="963.1,130.4 983,124 983,127.2 963.1,133.6" fill="#9a9a9a" stroke="#444" stroke-width="0.8"/>
<polygon points="954.3,125.7 963.1,130.4 963.1,133.6 954.3,128.9" fill="#8e8e8e" stroke="#444" stroke-width="0.8"/>
<polygon points="954.3,125.7 974.2,119.3 983,124 963.1,130.4" fill="#a9a9a9" stroke="#444" stroke-width="0.8"/>
<polygon points="805,208 856.1,235.2 861.7,309.3 809,280" fill="#7f7f7f" stroke="#3a3a3a" stroke-width="1"/>
<polygon points="856.1,235.2 1068,166 1072.7,239.3 861.7,309.3" fill="#858585" stroke="#3a3a3a" stroke-width="1"/>
<polygon points="805,208 1012,135.3 1068,166 856.1,235.2" fill="#8c8c8c" stroke="#3a3a3a" stroke-width="1"/>
<polyline points="846.4,193.5 898.5,221.4 903.9,295.3" fill="none" stroke="#333" stroke-width="1.6"/>
<line x1="900.1" y1="222.4" x2="905.5" y2="294.8" stroke="#929292" stroke-width="1"/>
<polyline points="887.8,178.9 940.9,207.5 946.1,281.3" fill="none" stroke="#333" stroke-width="1.6"/>
<line x1="942.5" y1="208.5" x2="947.7" y2="280.8" stroke="#929292" stroke-width="1"/>
<polyline points="929.2,164.4 983.2,193.7 988.3,267.3" fill="none" stroke="#333" stroke-width="1.6"/>
<line x1="984.8" y1="194.7" x2="989.9" y2="266.8" stroke="#929292" stroke-width="1"/>
<polyline points="970.6,149.8 1025.6,179.8 1030.5,253.3" fill="none" stroke="#333" stroke-width="1.6"/>
<line x1="1027.2" y1="180.8" x2="1032.1" y2="252.8" stroke="#929292" stroke-width="1"/>
<polygon points="827.5,207.1 847,200.3 847,203.5 827.5,210.3" fill="#9a9a9a" stroke="#444" stroke-width="0.8"/>
<polygon points="818.8,202.5 827.5,207.1 827.5,210.3 818.8,205.7" fill="#8e8e8e" stroke="#444" stroke-width="0.8"/>
<polygon points="818.8,202.5 838.3,195.7 847,200.3 827.5,207.1" fill="#a9a9a9" stroke="#444" stroke-width="0.8"/>
<polygon points="861.4,225.2 881.2,218.6 881.2,221.8 861.4,228.4" fill="#9a9a9a" stroke="#444" stroke-width="0.8"/>
<polygon points="852.7,220.5 861.4,225.2 861.4,228.4 852.7,223.7" fill="#8e8e8e" stroke="#444" stroke-width="0.8"/>
<polygon points="852.7,220.5 872.5,214 881.2,218.6 861.4,225.2" fill="#a9a9a9" stroke="#444" stroke-width="0.8"/>
<polygon points="869,192.7 888.6,185.9 888.6,189.1 869,195.9" fill="#9a9a9a" stroke="#444" stroke-width="0.8"/>
<polygon points="860.4,188 869,192.7 869,195.9 860.4,191.2" fill="#8e8e8e" stroke="#444" stroke-width="0.8"/>
<polygon points="860.4,188 879.9,181.2 888.6,185.9 869,192.7" fill="#a9a9a9" stroke="#444" stroke-width="0.8"/>
<polygon points="903.6,211.2 923.4,204.6 923.4,207.8 903.6,214.4" fill="#9a9a9a" stroke="#444" stroke-width="0.8"/>
<polygon points="894.9,206.6 903.6,211.2 903.6,214.4 894.9,209.8" fill="#8e8e8e" stroke="#444" stroke-width="0.8"/>
<polygon points="894.9,206.6 914.7,200 923.4,204.6 903.6,211.2" fill="#a9a9a9" stroke="#444" stroke-width="0.8"/>
<polygon points="910.6,178.2 930.1,171.4 930.1,174.6 910.6,181.4" fill="#9a9a9a" stroke="#444" stroke-width="0.8"/>
<polygon points="901.9,173.6 910.6,178.2 910.6,181.4 901.9,176.8" fill="#8e8e8e" stroke="#444" stroke-width="0.8"/>
<polygon points="901.9,173.6 921.4,166.8 930.1,171.4 910.6,178.2" fill="#a9a9a9" stroke="#444" stroke-width="0.8"/>
<polygon points="945.8,197.2 965.6,190.6 965.6,193.8 945.8,200.4" fill="#9a9a9a" stroke="#444" stroke-width="0.8"/>
<polygon points="937.1,192.6 945.8,197.2 945.8,200.4 937.1,195.8" fill="#8e8e8e" stroke="#444" stroke-width="0.8"/>
<polygon points="937.1,192.6 956.9,186 965.6,190.6 945.8,197.2" fill="#a9a9a9" stroke="#444" stroke-width="0.8"/>
<polygon points="952.1,163.8 971.6,157 971.6,160.2 952.1,167" fill="#9a9a9a" stroke="#444" stroke-width="0.8"/>
<polygon points="943.4,159.1 952.1,163.8 952.1,167 943.4,162.3" fill="#8e8e8e" stroke="#444" stroke-width="0.8"/>
<polygon points="943.4,159.1 963,152.4 971.6,157 952.1,163.8" fill="#a9a9a9" stroke="#444" stroke-width="0.8"/>
<polygon points="988,183.2 1007.8,176.7 1007.8,179.9 988,186.4" fill="#9a9a9a" stroke="#444" stroke-width="0.8"/>
<polygon points="979.3,178.6 988,183.2 988,186.4 979.3,181.8" fill="#8e8e8e" stroke="#444" stroke-width="0.8"/>
<polygon points="979.3,178.6 999.1,172 1007.8,176.7 988,183.2" fill="#a9a9a9" stroke="#444" stroke-width="0.8"/>
<polygon points="993.7,149.3 1013.2,142.5 1013.2,145.7 993.7,152.5" fill="#9a9a9a" stroke="#444" stroke-width="0.8"/>
<polygon points="985,144.7 993.7,149.3 993.7,152.5 985,147.9" fill="#8e8e8e" stroke="#444" stroke-width="0.8"/>
<polygon points="985,144.7 1004.5,137.9 1013.2,142.5 993.7,149.3" fill="#a9a9a9" stroke="#444" stroke-width="0.8"/>
<polygon points="1030.1,169.2 1050,162.7 1050,165.9 1030.1,172.4" fill="#9a9a9a" stroke="#444" stroke-width="0.8"/>
<polygon points="1021.5,164.6 1030.1,169.2 1030.1,172.4 1021.5,167.8" fill="#8e8e8e" stroke="#444" stroke-width="0.8"/>
<polygon points="1021.5,164.6 1041.3,158.1 1050,162.7 1030.1,169.2" fill="#a9a9a9" stroke="#444" stroke-width="0.8"/>
<polygon points="604.6,201.5 833.6,334 833.6,348 604.6,215" fill="#868686" stroke="#555" stroke-width="0.8"/>
<polygon points="604.6,201.5 618,195.5 847,327.3 833.6,334" fill="#979797" stroke="#555" stroke-width="0.8"/>
<polygon points="833.6,334 847,327.3 847,341 833.6,348" fill="#808080" stroke="#555" stroke-width="0.8"/>
<path d="M678.7 239L678.7 190" fill="none" stroke="#5a5a5a" stroke-width="13.9" stroke-linejoin="round" /><path d="M678.7 239L678.7 190" fill="none" stroke="#9b9b9b" stroke-width="12.5" stroke-linejoin="round" /><path d="M678.7 239L678.7 190" fill="none" stroke="#bcbcbc" stroke-width="5.6" stroke-linejoin="round" />
<ellipse cx="678.7" cy="239" rx="6.6" ry="2.4" fill="#8a8a8a" stroke="#5a5a5a" stroke-width="0.8"/>
<path d="M769.6 292L769.6 250Q769.6 225 750 215L692.5 180.5Q678.7 172 678.7 190" fill="none" stroke="#5a5a5a" stroke-width="13.9" stroke-linejoin="round" /><path d="M769.6 292L769.6 250Q769.6 225 750 215L692.5 180.5Q678.7 172 678.7 190" fill="none" stroke="#9b9b9b" stroke-width="12.5" stroke-linejoin="round" /><path d="M769.6 292L769.6 250Q769.6 225 750 215L692.5 180.5Q678.7 172 678.7 190" fill="none" stroke="#bcbcbc" stroke-width="5.6" stroke-linejoin="round" />
<ellipse cx="769.6" cy="292" rx="6.6" ry="2.4" fill="#8a8a8a" stroke="#5a5a5a" stroke-width="0.8"/>
<path d="M674 209L712 195.5" fill="none" stroke="#5a5a5a" stroke-width="13.4" stroke-linejoin="round" /><path d="M674 209L712 195.5" fill="none" stroke="#9b9b9b" stroke-width="12" stroke-linejoin="round" /><path d="M674 209L712 195.5" fill="none" stroke="#bcbcbc" stroke-width="5.4" stroke-linejoin="round" />
<ellipse cx="672.5" cy="209.5" rx="3.6" ry="6.2" fill="#a8a8a8" stroke="#222" stroke-width="1.3" transform="rotate(-15 672.5 209.5)"/>
<line x1="672" y1="192" x2="685.5" y2="192" stroke="#666" stroke-width="1"/>
<line x1="698" y1="176.5" x2="692" y2="188.5" stroke="#666" stroke-width="1"/>
<line x1="725" y1="192" x2="718" y2="204" stroke="#666" stroke-width="1"/>
<line x1="754" y1="210" x2="747" y2="222" stroke="#666" stroke-width="1"/>
<line x1="763" y1="246.5" x2="776.5" y2="246.5" stroke="#666" stroke-width="1"/>
<line x1="712.4" y1="341.9" x2="712.4" y2="309.5" stroke="#000" stroke-width="1.6"/>
<polygon points="712.4,309.5 716.4,321.5 708.4,321.5" fill="#000"/>
<line x1="712.4" y1="341.9" x2="686.5" y2="323" stroke="#000" stroke-width="1.6"/>
<polygon points="686.5,323 698.6,326.8 693.8,333.3" fill="#000"/>
<line x1="712.4" y1="341.9" x2="739.5" y2="328.5" stroke="#000" stroke-width="1.6"/>
<polygon points="739.5,328.5 730.5,337.4 727,330.2" fill="#000"/>
<line x1="645" y1="195.5" x2="668.5" y2="204.5" stroke="#111" stroke-width="1.1"/><polygon points="668.5,204.5 660,204.3 662.1,198.9" fill="#000"/>
<line x1="1083" y1="129" x2="1066" y2="112" stroke="#111" stroke-width="1.1"/><polygon points="1066,112 1073.7,115.6 1069.6,119.7" fill="#000"/>
<line x1="1077" y1="250" x2="1090" y2="226" stroke="#111" stroke-width="1.1"/><polygon points="1090,226 1088.7,234.4 1083.6,231.7" fill="#000"/>
<line x1="852" y1="313.5" x2="829" y2="305.5" stroke="#111" stroke-width="1.1"/><polygon points="829,305.5 837.5,305.4 835.6,310.9" fill="#000"/>
</g>
<g id="panel_c">
<polygon points="92,593 96,590.5 318,726 487,627 487.5,636 318.5,737.8 92.3,598.5" fill="#f1f1f1" stroke="#666" stroke-width="1"/>
<polyline points="92,593.5 318,731 487,631" fill="none" stroke="#777" stroke-width="0.9"/>
<polygon points="96.8,542.4 310,668 310,729.5 98,596" fill="#f3f3f3" stroke="#777" stroke-width="1"/>
<line x1="104.7" y1="547" x2="105.2" y2="600" stroke="#8a8a8a" stroke-width="1"/>
<line x1="306.8" y1="667" x2="306.8" y2="726" stroke="#8a8a8a" stroke-width="1"/>
<polygon points="306.8,665.5 314.7,667.8 316.5,731.5 308,728" fill="#fafafa" stroke="#777" stroke-width="0.9"/>
<polygon points="314.7,667.8 482,571.2 485.3,631.8 316.9,730.6" fill="#a4a4a4" stroke="#666" stroke-width="1"/>
<polygon points="96.8,542.4 112,533 120,528 258,440.5 266,437 481.2,570.4 482,573 314.7,669 308,667" fill="#f6f6f6" stroke="#666" stroke-width="1"/>
<polygon points="113.7,541.2 259.6,450.3 466.6,572.7 315.7,663.3" fill="#050505"/>
<use href="#hole" x="128.3" y="554"/>
<use href="#hole" x="148.6" y="566.3"/>
<use href="#hole" x="168.9" y="578.6"/>
<use href="#hole" x="189.2" y="590.9"/>
<use href="#hole" x="209.5" y="603.2"/>
<use href="#hole" x="229.8" y="615.5"/>
<use href="#hole" x="250.1" y="627.8"/>
<use href="#hole" x="270.4" y="640.1"/>
<use href="#hole" x="290.7" y="652.4"/>
<use href="#hole" x="287.4" y="457"/>
<use href="#hole" x="307.8" y="469.4"/>
<use href="#hole" x="328.1" y="481.7"/>
<use href="#hole" x="348.4" y="494.1"/>
<use href="#hole" x="368.8" y="506.4"/>
<use href="#hole" x="389.1" y="518.8"/>
<use href="#hole" x="409.5" y="531.1"/>
<use href="#hole" x="429.9" y="543.5"/>
<use href="#hole" x="450.2" y="555.8"/>
<line x1="104" y1="548" x2="308" y2="671.5" stroke="#888" stroke-width="0.8"/>
<line x1="268" y1="444" x2="476" y2="572" stroke="#888" stroke-width="0.8"/>
<use href="#term" x="282.5" y="473.4"/>
<use href="#term" x="302.1" y="485.2"/>
<use href="#term" x="321.7" y="497"/>
<use href="#term" x="341.3" y="508.8"/>
<use href="#term" x="360.9" y="520.6"/>
<use href="#term" x="380.5" y="532.4"/>
<use href="#term" x="400.1" y="544.2"/>
<use href="#term" x="419.7" y="556"/>
<use href="#term" x="260.7" y="486.6"/>
<use href="#term" x="280.3" y="498.4"/>
<use href="#term" x="299.9" y="510.2"/>
<use href="#term" x="319.5" y="522"/>
<use href="#term" x="339.1" y="533.9"/>
<use href="#term" x="358.7" y="545.6"/>
<use href="#term" x="378.3" y="557.5"/>
<use href="#term" x="397.9" y="569.2"/>
<use href="#term" x="238.9" y="499.9"/>
<use href="#term" x="258.5" y="511.7"/>
<use href="#term" x="278.1" y="523.5"/>
<use href="#term" x="297.7" y="535.3"/>
<use href="#term" x="317.3" y="547.1"/>
<use href="#term" x="336.9" y="558.9"/>
<use href="#term" x="356.5" y="570.7"/>
<use href="#term" x="376.1" y="582.5"/>
<use href="#term" x="217.1" y="513.1"/>
<use href="#term" x="236.7" y="524.9"/>
<use href="#term" x="256.3" y="536.8"/>
<use href="#term" x="275.9" y="548.5"/>
<use href="#term" x="295.5" y="560.4"/>
<use href="#term" x="315.1" y="572.1"/>
<use href="#term" x="334.7" y="584"/>
<use href="#term" x="354.3" y="595.8"/>
<use href="#term" x="195.3" y="526.4"/>
<use href="#term" x="214.9" y="538.2"/>
<use href="#term" x="234.5" y="550"/>
<use href="#term" x="254.1" y="561.8"/>
<use href="#term" x="273.7" y="573.6"/>
<use href="#term" x="293.3" y="585.4"/>
<use href="#term" x="312.9" y="597.2"/>
<use href="#term" x="332.5" y="609"/>
<use href="#term" x="173.5" y="539.6"/>
<use href="#term" x="193.1" y="551.4"/>
<use href="#term" x="212.7" y="563.2"/>
<use href="#term" x="232.3" y="575"/>
<use href="#term" x="251.9" y="586.9"/>
<use href="#term" x="271.5" y="598.6"/>
<use href="#term" x="291.1" y="610.5"/>
<use href="#term" x="310.7" y="622.2"/>
<use href="#term" x="151.7" y="552.9"/>
<use href="#term" x="171.3" y="564.7"/>
<use href="#term" x="190.9" y="576.5"/>
<use href="#term" x="210.5" y="588.3"/>
<use href="#term" x="230.1" y="600.1"/>
<use href="#term" x="249.7" y="611.9"/>
<use href="#term" x="269.3" y="623.7"/>
<use href="#term" x="288.9" y="635.5"/>
<line x1="229.3" y1="455.6" x2="437.4" y2="580.9" stroke="#8c8c8c" stroke-width="2.2"/>
<line x1="229.3" y1="453" x2="437.4" y2="578.3" stroke="#f5f5f5" stroke-width="3.6"/>
<line x1="229.3" y1="451.1" x2="437.4" y2="576.4" stroke="#b0b0b0" stroke-width="0.8"/>
<polygon points="228.6,452.1 234.6,449.6 238.1,454.1 232.6,457.1 228.1,456.6" fill="#ececec" stroke="#6a6a6a" stroke-width="0.9"/>
<ellipse cx="230.6" cy="454.4" rx="1.4" ry="1.9" fill="#c8c8c8" stroke="#777" stroke-width="0.7"/>
<line x1="207.5" y1="468.9" x2="415.6" y2="594.1" stroke="#8c8c8c" stroke-width="2.2"/>
<line x1="207.5" y1="466.3" x2="415.6" y2="591.5" stroke="#f5f5f5" stroke-width="3.6"/>
<line x1="207.5" y1="464.4" x2="415.6" y2="589.6" stroke="#b0b0b0" stroke-width="0.8"/>
<polygon points="206.8,465.4 212.8,462.9 216.3,467.4 210.8,470.4 206.3,469.9" fill="#ececec" stroke="#6a6a6a" stroke-width="0.9"/>
<ellipse cx="208.8" cy="467.7" rx="1.4" ry="1.9" fill="#c8c8c8" stroke="#777" stroke-width="0.7"/>
<line x1="185.7" y1="482.1" x2="393.8" y2="607.4" stroke="#8c8c8c" stroke-width="2.2"/>
<line x1="185.7" y1="479.5" x2="393.8" y2="604.8" stroke="#f5f5f5" stroke-width="3.6"/>
<line x1="185.7" y1="477.6" x2="393.8" y2="602.9" stroke="#b0b0b0" stroke-width="0.8"/>
<polygon points="185,478.6 191,476.1 194.5,480.6 189,483.6 184.5,483.1" fill="#ececec" stroke="#6a6a6a" stroke-width="0.9"/>
<ellipse cx="187" cy="480.9" rx="1.4" ry="1.9" fill="#c8c8c8" stroke="#777" stroke-width="0.7"/>
<line x1="163.9" y1="495.4" x2="372" y2="620.6" stroke="#8c8c8c" stroke-width="2.2"/>
<line x1="163.9" y1="492.8" x2="372" y2="618" stroke="#f5f5f5" stroke-width="3.6"/>
<line x1="163.9" y1="490.9" x2="372" y2="616.1" stroke="#b0b0b0" stroke-width="0.8"/>
<polygon points="163.2,491.9 169.2,489.4 172.7,493.9 167.2,496.9 162.7,496.4" fill="#ececec" stroke="#6a6a6a" stroke-width="0.9"/>
<ellipse cx="165.2" cy="494.2" rx="1.4" ry="1.9" fill="#c8c8c8" stroke="#777" stroke-width="0.7"/>
<line x1="142.1" y1="508.6" x2="350.2" y2="633.9" stroke="#8c8c8c" stroke-width="2.2"/>
<line x1="142.1" y1="506" x2="350.2" y2="631.3" stroke="#f5f5f5" stroke-width="3.6"/>
<line x1="142.1" y1="504.1" x2="350.2" y2="629.4" stroke="#b0b0b0" stroke-width="0.8"/>
<polygon points="141.4,505.1 147.4,502.6 150.9,507.1 145.4,510.1 140.9,509.6" fill="#ececec" stroke="#6a6a6a" stroke-width="0.9"/>
<ellipse cx="143.4" cy="507.4" rx="1.4" ry="1.9" fill="#c8c8c8" stroke="#777" stroke-width="0.7"/>
<line x1="120.3" y1="521.9" x2="328.4" y2="647.1" stroke="#8c8c8c" stroke-width="2.2"/>
<line x1="120.3" y1="519.3" x2="328.4" y2="644.5" stroke="#f5f5f5" stroke-width="3.6"/>
<line x1="120.3" y1="517.4" x2="328.4" y2="642.6" stroke="#b0b0b0" stroke-width="0.8"/>
<polygon points="119.6,518.4 125.6,515.9 129.1,520.4 123.6,523.4 119.1,522.9" fill="#ececec" stroke="#6a6a6a" stroke-width="0.9"/>
<ellipse cx="121.6" cy="520.7" rx="1.4" ry="1.9" fill="#c8c8c8" stroke="#777" stroke-width="0.7"/>
<polygon points="212.5,441.3 232.7,429.4 261.9,448.1 241.7,458.2" fill="#9c9c9c" stroke="#333" stroke-width="1"/>
<polygon points="315.7,663.3 466.6,572.7 482,571.2 482.3,577.5 316,674" fill="#f4f4f4" stroke="#777" stroke-width="0.8"/>
<line x1="342.5" y1="675.5" x2="344" y2="715.7" stroke="#5a5a5a" stroke-width="0.9"/>
<line x1="344" y1="675.5" x2="345.5" y2="715.7" stroke="#e0e0e0" stroke-width="1.3"/>
<line x1="341" y1="670.5" x2="347" y2="675.5" stroke="#777" stroke-width="0.8"/>
<use href="#clamp" x="346.5" y="694.7"/>
<use href="#clamp" x="346.5" y="713.8"/>
<use href="#clamp" x="349" y="721.7"/>
<use href="#clamp" x="352" y="727.2"/>
<line x1="366.1" y1="638.4" x2="367.6" y2="702" stroke="#5a5a5a" stroke-width="0.9"/>
<line x1="367.6" y1="638.4" x2="369.1" y2="702" stroke="#e0e0e0" stroke-width="1.3"/>
<line x1="364.6" y1="633.4" x2="370.6" y2="638.4" stroke="#777" stroke-width="0.8"/>
<use href="#clamp" x="370.1" y="648.7"/>
<use href="#clamp" x="370.1" y="664.4"/>
<use href="#clamp" x="370.1" y="682.4"/>
<use href="#clamp" x="370.1" y="700.3"/>
<use href="#clamp" x="373" y="708"/>
<use href="#clamp" x="376" y="713.5"/>
<line x1="388.5" y1="626.1" x2="390" y2="688.7" stroke="#5a5a5a" stroke-width="0.9"/>
<line x1="390" y1="626.1" x2="391.5" y2="688.7" stroke="#e0e0e0" stroke-width="1.3"/>
<line x1="387" y1="621.1" x2="393" y2="626.1" stroke="#777" stroke-width="0.8"/>
<use href="#clamp" x="392.5" y="635.2"/>
<use href="#clamp" x="392.5" y="652"/>
<use href="#clamp" x="392.5" y="670"/>
<use href="#clamp" x="392.5" y="686.9"/>
<use href="#clamp" x="395" y="694.7"/>
<use href="#clamp" x="398" y="700.2"/>
<line x1="409.9" y1="612.6" x2="411.4" y2="675.2" stroke="#5a5a5a" stroke-width="0.9"/>
<line x1="411.4" y1="612.6" x2="412.9" y2="675.2" stroke="#e0e0e0" stroke-width="1.3"/>
<line x1="408.4" y1="607.6" x2="414.4" y2="612.6" stroke="#777" stroke-width="0.8"/>
<use href="#clamp" x="413.9" y="620.6"/>
<use href="#clamp" x="413.9" y="638.6"/>
<use href="#clamp" x="413.9" y="655.4"/>
<use href="#clamp" x="413.9" y="672.3"/>
<use href="#clamp" x="417" y="681.2"/>
<use href="#clamp" x="420" y="686.7"/>
<line x1="431.2" y1="599.1" x2="432.7" y2="661.8" stroke="#5a5a5a" stroke-width="0.9"/>
<line x1="432.7" y1="599.1" x2="434.2" y2="661.8" stroke="#e0e0e0" stroke-width="1.3"/>
<line x1="429.7" y1="594.1" x2="435.7" y2="599.1" stroke="#777" stroke-width="0.8"/>
<use href="#clamp" x="435.2" y="608.3"/>
<use href="#clamp" x="435.2" y="625.1"/>
<use href="#clamp" x="435.2" y="642"/>
<use href="#clamp" x="435.2" y="658.8"/>
<use href="#clamp" x="438" y="667.8"/>
<use href="#clamp" x="441" y="673.3"/>
<line x1="453.6" y1="585.7" x2="455.1" y2="648.3" stroke="#5a5a5a" stroke-width="0.9"/>
<line x1="455.1" y1="585.7" x2="456.6" y2="648.3" stroke="#e0e0e0" stroke-width="1.3"/>
<line x1="452.1" y1="580.7" x2="458.1" y2="585.7" stroke="#777" stroke-width="0.8"/>
<use href="#clamp" x="457.6" y="593.7"/>
<use href="#clamp" x="457.6" y="611.6"/>
<use href="#clamp" x="457.6" y="629.6"/>
<use href="#clamp" x="457.6" y="646.4"/>
<use href="#clamp" x="460.5" y="654.3"/>
<use href="#clamp" x="463.5" y="659.8"/>
<polygon points="315.8,664.4 338.3,652.1 366.3,670 345,683.5" fill="#8e8e8e" stroke="#222" stroke-width="1.2"/>
<line x1="345" y1="684" x2="366.5" y2="670.5" stroke="#111" stroke-width="1.6"/>
<ellipse cx="468.1" cy="594.8" rx="1.5" ry="2" fill="#b8b8b8" stroke="#6a6a6a" stroke-width="0.7"/>
<ellipse cx="468.6" cy="613.8" rx="1.5" ry="2" fill="#b8b8b8" stroke="#6a6a6a" stroke-width="0.7"/>
<ellipse cx="469.1" cy="632.8" rx="1.5" ry="2" fill="#b8b8b8" stroke="#6a6a6a" stroke-width="0.7"/>
<ellipse cx="446.3" cy="608.1" rx="1.5" ry="2" fill="#b8b8b8" stroke="#6a6a6a" stroke-width="0.7"/>
<ellipse cx="446.8" cy="627.1" rx="1.5" ry="2" fill="#b8b8b8" stroke="#6a6a6a" stroke-width="0.7"/>
<ellipse cx="447.3" cy="646.1" rx="1.5" ry="2" fill="#b8b8b8" stroke="#6a6a6a" stroke-width="0.7"/>
<ellipse cx="424.5" cy="621.3" rx="1.5" ry="2" fill="#b8b8b8" stroke="#6a6a6a" stroke-width="0.7"/>
<ellipse cx="425" cy="640.3" rx="1.5" ry="2" fill="#b8b8b8" stroke="#6a6a6a" stroke-width="0.7"/>
<ellipse cx="425.5" cy="659.3" rx="1.5" ry="2" fill="#b8b8b8" stroke="#6a6a6a" stroke-width="0.7"/>
<ellipse cx="402.7" cy="634.6" rx="1.5" ry="2" fill="#b8b8b8" stroke="#6a6a6a" stroke-width="0.7"/>
<ellipse cx="403.2" cy="653.6" rx="1.5" ry="2" fill="#b8b8b8" stroke="#6a6a6a" stroke-width="0.7"/>
<ellipse cx="403.7" cy="672.6" rx="1.5" ry="2" fill="#b8b8b8" stroke="#6a6a6a" stroke-width="0.7"/>
<ellipse cx="380.9" cy="647.8" rx="1.5" ry="2" fill="#b8b8b8" stroke="#6a6a6a" stroke-width="0.7"/>
<ellipse cx="381.4" cy="666.8" rx="1.5" ry="2" fill="#b8b8b8" stroke="#6a6a6a" stroke-width="0.7"/>
<ellipse cx="381.9" cy="685.8" rx="1.5" ry="2" fill="#b8b8b8" stroke="#6a6a6a" stroke-width="0.7"/>
<ellipse cx="359.1" cy="661.1" rx="1.5" ry="2" fill="#b8b8b8" stroke="#6a6a6a" stroke-width="0.7"/>
<ellipse cx="359.6" cy="680.1" rx="1.5" ry="2" fill="#b8b8b8" stroke="#6a6a6a" stroke-width="0.7"/>
<ellipse cx="360.1" cy="699.1" rx="1.5" ry="2" fill="#b8b8b8" stroke="#6a6a6a" stroke-width="0.7"/>
<ellipse cx="478" cy="583" rx="1.5" ry="2" fill="#b8b8b8" stroke="#6a6a6a" stroke-width="0.7"/>
<ellipse cx="318.5" cy="680" rx="1.5" ry="2" fill="#b8b8b8" stroke="#6a6a6a" stroke-width="0.7"/>
<ellipse cx="478.8" cy="602" rx="1.5" ry="2" fill="#b8b8b8" stroke="#6a6a6a" stroke-width="0.7"/>
<ellipse cx="318.7" cy="699" rx="1.5" ry="2" fill="#b8b8b8" stroke="#6a6a6a" stroke-width="0.7"/>
<ellipse cx="479.6" cy="621" rx="1.5" ry="2" fill="#b8b8b8" stroke="#6a6a6a" stroke-width="0.7"/>
<ellipse cx="318.9" cy="718" rx="1.5" ry="2" fill="#b8b8b8" stroke="#6a6a6a" stroke-width="0.7"/>
<line x1="201" y1="422" x2="226" y2="437" stroke="#333" stroke-width="1"/>
<line x1="115.8" y1="489.5" x2="139" y2="531" stroke="#333" stroke-width="1"/>
<line x1="117" y1="519" x2="126" y2="529.5" stroke="#333" stroke-width="1"/>
<line x1="336" y1="461" x2="327" y2="481" stroke="#333" stroke-width="1.6"/>
<polygon points="325.5,485.5 326.7,476.2 331.4,478.3" fill="#333"/>
</g>
<g id="panel_d">
<polygon points="648.4,486.6 751,509.8 740.8,681 647.6,652" fill="url(#dFilm)" stroke="#0a0a0a" stroke-width="3.2" stroke-linejoin="miter"/>
<polygon points="891,538.5 909,520.5 900,681 880,710.3" fill="#101010"/>
<line x1="894.6" y1="534.9" x2="884" y2="704.4" stroke="#3a3a3a" stroke-width="0.9"/>
<line x1="898.2" y1="531.3" x2="888" y2="698.6" stroke="#3a3a3a" stroke-width="0.9"/>
<line x1="901.8" y1="527.7" x2="892" y2="692.7" stroke="#3a3a3a" stroke-width="0.9"/>
<line x1="905.4" y1="524.1" x2="896" y2="686.9" stroke="#3a3a3a" stroke-width="0.9"/>
<polygon points="900,560 942,570 942,577.5 900,568" fill="#858585" stroke="#1a1a1a" stroke-width="1"/>
<polygon points="895,566 937,576 937,583.5 895,574" fill="#858585" stroke="#1a1a1a" stroke-width="1"/>
<polygon points="890,572 932,582 932,589.5 890,580" fill="#858585" stroke="#1a1a1a" stroke-width="1"/>
<polygon points="900,606 942,616 942,623.5 900,614" fill="#858585" stroke="#1a1a1a" stroke-width="1"/>
<polygon points="895,612 937,622 937,629.5 895,620" fill="#858585" stroke="#1a1a1a" stroke-width="1"/>
<polygon points="890,618 932,628 932,635.5 890,626" fill="#858585" stroke="#1a1a1a" stroke-width="1"/>
<polygon points="900,650 942,660 942,667.5 900,658" fill="#858585" stroke="#1a1a1a" stroke-width="1"/>
<polygon points="895,656 937,666 937,673.5 895,664" fill="#858585" stroke="#1a1a1a" stroke-width="1"/>
<polygon points="890,662 932,672 932,679.5 890,670" fill="#858585" stroke="#1a1a1a" stroke-width="1"/>
<polygon points="965.8,561.6 977.8,548.6 977.8,588.6 965.8,602.6" fill="#8a8a8a" stroke="#101010" stroke-width="1.3"/>
<line x1="967" y1="562.6" x2="967" y2="600.6" stroke="#2a2a2a" stroke-width="1.6"/>
<polygon points="959.5,562 971.5,549 971.5,589 959.5,603" fill="#8a8a8a" stroke="#101010" stroke-width="1.3"/>
<line x1="960.7" y1="563" x2="960.7" y2="601" stroke="#2a2a2a" stroke-width="1.6"/>
<polygon points="953.2,562.4 965.2,549.4 965.2,589.4 953.2,603.4" fill="#8a8a8a" stroke="#101010" stroke-width="1.3"/>
<line x1="954.4" y1="563.4" x2="954.4" y2="601.4" stroke="#2a2a2a" stroke-width="1.6"/>
<polygon points="946.9,562.8 958.9,549.8 958.9,589.8 946.9,603.8" fill="#8a8a8a" stroke="#101010" stroke-width="1.3"/>
<line x1="948.1" y1="563.8" x2="948.1" y2="601.8" stroke="#2a2a2a" stroke-width="1.6"/>
<polygon points="940.6,563.2 952.6,550.2 952.6,590.2 940.6,604.2" fill="#8a8a8a" stroke="#101010" stroke-width="1.3"/>
<line x1="941.8" y1="564.2" x2="941.8" y2="602.2" stroke="#2a2a2a" stroke-width="1.6"/>
<polygon points="934.3,563.6 946.3,550.6 946.3,590.6 934.3,604.6" fill="#8a8a8a" stroke="#101010" stroke-width="1.3"/>
<line x1="935.5" y1="564.6" x2="935.5" y2="602.6" stroke="#2a2a2a" stroke-width="1.6"/>
<polygon points="928,564 940,551 940,591 928,605" fill="#8a8a8a" stroke="#101010" stroke-width="1.3"/>
<line x1="929.2" y1="565" x2="929.2" y2="603" stroke="#2a2a2a" stroke-width="1.6"/>
<polygon points="970,567 982,570 982,577 970,574" fill="#8a8a8a" stroke="#1a1a1a" stroke-width="0.9"/>
<polygon points="966.5,576 978.5,579 978.5,586 966.5,583" fill="#8a8a8a" stroke="#1a1a1a" stroke-width="0.9"/>
<polygon points="963,585 975,588 975,595 963,592" fill="#8a8a8a" stroke="#1a1a1a" stroke-width="0.9"/>
<polygon points="961.3,608.6 973.3,595.6 973.3,635.6 961.3,649.6" fill="#8a8a8a" stroke="#101010" stroke-width="1.3"/>
<line x1="962.5" y1="609.6" x2="962.5" y2="647.6" stroke="#2a2a2a" stroke-width="1.6"/>
<polygon points="955,609 967,596 967,636 955,650" fill="#8a8a8a" stroke="#101010" stroke-width="1.3"/>
<line x1="956.2" y1="610" x2="956.2" y2="648" stroke="#2a2a2a" stroke-width="1.6"/>
<polygon points="948.7,609.4 960.7,596.4 960.7,636.4 948.7,650.4" fill="#8a8a8a" stroke="#101010" stroke-width="1.3"/>
<line x1="949.9" y1="610.4" x2="949.9" y2="648.4" stroke="#2a2a2a" stroke-width="1.6"/>
<polygon points="942.4,609.8 954.4,596.8 954.4,636.8 942.4,650.8" fill="#8a8a8a" stroke="#101010" stroke-width="1.3"/>
<line x1="943.6" y1="610.8" x2="943.6" y2="648.8" stroke="#2a2a2a" stroke-width="1.6"/>
<polygon points="936.1,610.2 948.1,597.2 948.1,637.2 936.1,651.2" fill="#8a8a8a" stroke="#101010" stroke-width="1.3"/>
<line x1="937.3" y1="611.2" x2="937.3" y2="649.2" stroke="#2a2a2a" stroke-width="1.6"/>
<polygon points="929.8,610.6 941.8,597.6 941.8,637.6 929.8,651.6" fill="#8a8a8a" stroke="#101010" stroke-width="1.3"/>
<line x1="931" y1="611.6" x2="931" y2="649.6" stroke="#2a2a2a" stroke-width="1.6"/>
<polygon points="923.5,611 935.5,598 935.5,638 923.5,652" fill="#8a8a8a" stroke="#101010" stroke-width="1.3"/>
<line x1="924.7" y1="612" x2="924.7" y2="650" stroke="#2a2a2a" stroke-width="1.6"/>
<polygon points="965.5,614 977.5,617 977.5,624 965.5,621" fill="#8a8a8a" stroke="#1a1a1a" stroke-width="0.9"/>
<polygon points="962,623 974,626 974,633 962,630" fill="#8a8a8a" stroke="#1a1a1a" stroke-width="0.9"/>
<polygon points="958.5,632 970.5,635 970.5,642 958.5,639" fill="#8a8a8a" stroke="#1a1a1a" stroke-width="0.9"/>
<polygon points="955.8,656.6 967.8,643.6 967.8,683.6 955.8,697.6" fill="#8a8a8a" stroke="#101010" stroke-width="1.3"/>
<line x1="957" y1="657.6" x2="957" y2="695.6" stroke="#2a2a2a" stroke-width="1.6"/>
<polygon points="949.5,657 961.5,644 961.5,684 949.5,698" fill="#8a8a8a" stroke="#101010" stroke-width="1.3"/>
<line x1="950.7" y1="658" x2="950.7" y2="696" stroke="#2a2a2a" stroke-width="1.6"/>
<polygon points="943.2,657.4 955.2,644.4 955.2,684.4 943.2,698.4" fill="#8a8a8a" stroke="#101010" stroke-width="1.3"/>
<line x1="944.4" y1="658.4" x2="944.4" y2="696.4" stroke="#2a2a2a" stroke-width="1.6"/>
<polygon points="936.9,657.8 948.9,644.8 948.9,684.8 936.9,698.8" fill="#8a8a8a" stroke="#101010" stroke-width="1.3"/>
<line x1="938.1" y1="658.8" x2="938.1" y2="696.8" stroke="#2a2a2a" stroke-width="1.6"/>
<polygon points="930.6,658.2 942.6,645.2 942.6,685.2 930.6,699.2" fill="#8a8a8a" stroke="#101010" stroke-width="1.3"/>
<line x1="931.8" y1="659.2" x2="931.8" y2="697.2" stroke="#2a2a2a" stroke-width="1.6"/>
<polygon points="924.3,658.6 936.3,645.6 936.3,685.6 924.3,699.6" fill="#8a8a8a" stroke="#101010" stroke-width="1.3"/>
<line x1="925.5" y1="659.6" x2="925.5" y2="697.6" stroke="#2a2a2a" stroke-width="1.6"/>
<polygon points="918,659 930,646 930,686 918,700" fill="#8a8a8a" stroke="#101010" stroke-width="1.3"/>
<line x1="919.2" y1="660" x2="919.2" y2="698" stroke="#2a2a2a" stroke-width="1.6"/>
<polygon points="960,662 972,665 972,672 960,669" fill="#8a8a8a" stroke="#1a1a1a" stroke-width="0.9"/>
<polygon points="956.5,671 968.5,674 968.5,681 956.5,678" fill="#8a8a8a" stroke="#1a1a1a" stroke-width="0.9"/>
<polygon points="953,680 965,683 965,690 953,687" fill="#8a8a8a" stroke="#1a1a1a" stroke-width="0.9"/>
<line x1="950" y1="559" x2="1017" y2="570.5" stroke="#0a0a0a" stroke-width="1.7"/>
<line x1="958" y1="568" x2="1010" y2="578" stroke="#0a0a0a" stroke-width="1.7"/>
<line x1="962" y1="576" x2="1004" y2="584" stroke="#0a0a0a" stroke-width="1.7"/>
<line x1="952" y1="598" x2="997" y2="606" stroke="#0a0a0a" stroke-width="1.7"/>
<line x1="958" y1="607" x2="994" y2="613.5" stroke="#0a0a0a" stroke-width="1.7"/>
<line x1="962" y1="613" x2="992" y2="619" stroke="#0a0a0a" stroke-width="1.7"/>
<polygon points="949,558.5 957.4,557 956.3,562.9" fill="#000"/>
<polygon points="957,567.5 965.4,566 964.3,571.9" fill="#000"/>
<polygon points="951,597.5 959.4,596 958.3,601.9" fill="#000"/>
<polygon points="786.3,514.9 809,498 909,520.5 891,538.5" fill="#141414"/>
<line x1="790.8" y1="511.5" x2="894.6" y2="534.9" stroke="#5c5c5c" stroke-width="1"/>
<line x1="795.4" y1="508.1" x2="898.2" y2="531.3" stroke="#5c5c5c" stroke-width="1"/>
<line x1="799.9" y1="504.8" x2="901.8" y2="527.7" stroke="#5c5c5c" stroke-width="1"/>
<line x1="804.5" y1="501.4" x2="905.4" y2="524.1" stroke="#5c5c5c" stroke-width="1"/>
<polygon points="786.3,514.9 891,538.5 880,710.3 786.3,681.1" fill="#787878" stroke="#333" stroke-width="0.8"/>
<polygon points="832.1,487.3 842.3,489.6 842.3,507.8 832.1,505.5" fill="#d4d4d4" stroke="#1a1a1a" stroke-width="1.1"/>
<polygon points="827.5,490.6 837.7,492.9 837.7,511.1 827.5,508.8" fill="#d4d4d4" stroke="#1a1a1a" stroke-width="1.1"/>
<polygon points="822.9,493.9 833.1,496.2 833.1,514.4 822.9,512.1" fill="#d4d4d4" stroke="#1a1a1a" stroke-width="1.1"/>
<polygon points="818.3,497.2 828.5,499.5 828.5,517.7 818.3,515.4" fill="#d4d4d4" stroke="#1a1a1a" stroke-width="1.1"/>
<polygon points="813.7,500.5 823.9,502.8 823.9,521 813.7,518.7" fill="#d4d4d4" stroke="#1a1a1a" stroke-width="1.1"/>
<polygon points="872.4,497.3 882.6,499.6 882.6,517.8 872.4,515.5" fill="#d4d4d4" stroke="#1a1a1a" stroke-width="1.1"/>
<polygon points="867.8,500.6 878,502.9 878,521.1 867.8,518.8" fill="#d4d4d4" stroke="#1a1a1a" stroke-width="1.1"/>
<polygon points="863.2,503.9 873.4,506.2 873.4,524.4 863.2,522.1" fill="#d4d4d4" stroke="#1a1a1a" stroke-width="1.1"/>
<polygon points="858.6,507.2 868.8,509.5 868.8,527.7 858.6,525.4" fill="#d4d4d4" stroke="#1a1a1a" stroke-width="1.1"/>
<polygon points="854,510.5 864.2,512.8 864.2,531 854,528.7" fill="#d4d4d4" stroke="#1a1a1a" stroke-width="1.1"/>
<line x1="759" y1="508.5" x2="775" y2="512.4" stroke="#000" stroke-width="2.3"/>
<polygon points="782.5,514.2 770.8,515.8 772.8,507.4" fill="#000"/>
<line x1="764.4" y1="504.4" x2="780.4" y2="508.3" stroke="#000" stroke-width="2.3"/>
<polygon points="787.9,510.1 776.2,511.7 778.2,503.3" fill="#000"/>
<line x1="769.8" y1="500.3" x2="785.8" y2="504.2" stroke="#000" stroke-width="2.3"/>
<polygon points="793.3,506 781.6,507.6 783.6,499.2" fill="#000"/>
<line x1="775.2" y1="496.2" x2="791.2" y2="500.1" stroke="#000" stroke-width="2.3"/>
<polygon points="798.7,501.9 787,503.5 789,495.1" fill="#000"/>
<line x1="780.6" y1="492.1" x2="796.6" y2="496" stroke="#000" stroke-width="2.3"/>
<polygon points="804.1,497.8 792.4,499.4 794.4,491" fill="#000"/>
<line x1="786" y1="488" x2="802" y2="491.9" stroke="#000" stroke-width="2.3"/>
<polygon points="809.5,493.7 797.8,495.3 799.8,486.9" fill="#000"/>
<polygon points="1007.3,599.5 1024.2,579.2 1025.4,592.6 1008.3,613" fill="#e6e6e6" stroke="#0a0a0a" stroke-width="2.2"/>
<line x1="614.8" y1="731.4" x2="614.8" y2="694" stroke="#000" stroke-width="1.6"/>
<polygon points="614.8,694 618.8,707 610.8,707" fill="#000"/>
<line x1="614.8" y1="731.4" x2="638.4" y2="711.6" stroke="#000" stroke-width="1.6"/>
<polygon points="638.4,711.6 631,723 625.9,716.9" fill="#000"/>
<line x1="614.8" y1="731.4" x2="650.7" y2="742.6" stroke="#000" stroke-width="1.6"/>
<polygon points="650.7,742.6 637.1,742.5 639.5,734.9" fill="#000"/>
<line x1="672" y1="467" x2="692" y2="512" stroke="#111" stroke-width="1.1"/>
<line x1="827.7" y1="464.5" x2="836.7" y2="489.2" stroke="#111" stroke-width="1.1"/>
<line x1="910.4" y1="455" x2="879.5" y2="495" stroke="#111" stroke-width="1.1"/>
<line x1="943.5" y1="488" x2="900" y2="516" stroke="#111" stroke-width="1.1"/>
<line x1="939" y1="536" x2="917" y2="560" stroke="#111" stroke-width="1.1"/>
<line x1="1038" y1="575" x2="1021" y2="590" stroke="#111" stroke-width="1.1"/>
<line x1="1001" y1="645" x2="969" y2="657" stroke="#111" stroke-width="1.1"/>
<line x1="836" y1="648" x2="881" y2="683" stroke="#111" stroke-width="1.1"/>
<line x1="895" y1="694" x2="918" y2="714" stroke="#111" stroke-width="1.1"/>
</g>
<g id="labels">
<text x="204.5" y="32.5" class="s" font-size="20.5" textLength="61.5" lengthAdjust="spacingAndGlyphs">电池包</text>
<text x="147.5" y="65" class="s" font-size="20.5" textLength="83" lengthAdjust="spacingAndGlyphs">冷却风扇</text>
<text x="60" y="127.5" class="s" font-size="20.5" textLength="83" lengthAdjust="spacingAndGlyphs">冷凝风扇</text>
<text x="419.5" y="51" class="s" font-size="20.5" textLength="61.5" lengthAdjust="spacingAndGlyphs">挡风板</text>
<text x="7.5" y="191.5" class="s" font-size="20.5" textLength="103" lengthAdjust="spacingAndGlyphs">冷却液出口</text>
<text x="7.5" y="269.5" class="s" font-size="20.5" textLength="103" lengthAdjust="spacingAndGlyphs">冷却液入口</text>
<text x="104" y="304" class="s" font-size="20.5" textLength="61.5" lengthAdjust="spacingAndGlyphs">散热板</text>
<text x="182.5" y="339" class="s" font-size="20.5" textLength="83" lengthAdjust="spacingAndGlyphs">冷却管路</text>
<text x="589" y="168.5" class="s" font-size="20.5" textLength="61.5" lengthAdjust="spacingAndGlyphs">冷却液</text>
<text x="600" y="190.5" class="s" font-size="20.5" textLength="38" lengthAdjust="spacingAndGlyphs">入口</text>
<text x="1088" y="148.5" class="s" font-size="20.5" textLength="61.5" lengthAdjust="spacingAndGlyphs">冷却液</text>
<text x="1099" y="171" class="s" font-size="20.5" textLength="38" lengthAdjust="spacingAndGlyphs">出口</text>
<text x="1056.5" y="276.5" class="s" font-size="20.5" textLength="40.5" lengthAdjust="spacingAndGlyphs">冷板</text>
<text x="857" y="333" class="s" font-size="20.5" textLength="62.5" lengthAdjust="spacingAndGlyphs">导热垫</text>
<text x="180" y="427.5" class="s" font-size="20.5" textLength="20.5" lengthAdjust="spacingAndGlyphs">铜</text>
<text x="315.5" y="451.5" class="s" font-size="20.5" textLength="128" lengthAdjust="spacingAndGlyphs">温度测量区域</text>
<text x="46" y="482.5" class="s" font-size="20.5" textLength="82" lengthAdjust="spacingAndGlyphs">绝缘垫片</text>
<text x="25" y="518" class="s" font-size="20.5" textLength="84.5" lengthAdjust="spacingAndGlyphs">相变材料</text>
<text x="639.5" y="457.5" class="s" font-size="20.5" textLength="62.5" lengthAdjust="spacingAndGlyphs">加热膜</text>
<text x="752" y="458.5" class="s" font-size="20.5" textLength="105" lengthAdjust="spacingAndGlyphs">正极接线柱</text>
<text x="904.5" y="446.5" class="s" font-size="20.5" textLength="105" lengthAdjust="spacingAndGlyphs">负极接线柱</text>
<text x="940.5" y="530" class="s" font-size="20.5" textLength="105" lengthAdjust="spacingAndGlyphs">超薄微热管</text>
<text x="1046.5" y="582.5" class="s" font-size="20.5" textLength="62.5" lengthAdjust="spacingAndGlyphs">加热膜</text>
<text x="1009" y="652" class="s" font-size="20.5" textLength="60" lengthAdjust="spacingAndGlyphs">铝翅片</text>
<text x="657" y="433.5" class="s" font-size="20.5" textLength="30.5" lengthAdjust="spacingAndGlyphs">1型</text>
<text x="1061.5" y="559.5" class="s" font-size="20.5" textLength="32.5" lengthAdjust="spacingAndGlyphs">2型</text>
<text x="949.5" y="487.5" class="s" font-size="20.5" textLength="92.5" lengthAdjust="spacingAndGlyphs">电池单元5</text>
<text x="889.5" y="738" class="s" font-size="20.5" textLength="92.5" lengthAdjust="spacingAndGlyphs">电池单元1</text>
<text x="163.5" y="384.5" class="s" font-size="21">(</text>
<text x="172.2" y="385" class="s" font-size="21">a</text>
<text x="185.5" y="384.5" class="s" font-size="21">)</text>
<text x="196" y="385" class="s" font-size="20.5" textLength="125.5" lengthAdjust="spacingAndGlyphs">空冷技术简图</text>
<text x="324" y="377" class="s" font-size="13" textLength="21" lengthAdjust="spacingAndGlyphs">[31]</text>
<text x="783.5" y="384" class="s" font-size="21">(</text>
<text x="792.2" y="384.5" class="s" font-size="21">b</text>
<text x="805.5" y="384" class="s" font-size="21">)</text>
<text x="816" y="384.5" class="s" font-size="20.5" textLength="125.5" lengthAdjust="spacingAndGlyphs">液冷技术简图</text>
<text x="944" y="376.5" class="s" font-size="13" textLength="21" lengthAdjust="spacingAndGlyphs">[32]</text>
<text x="163.5" y="782.5" class="s" font-size="21">(</text>
<text x="172.2" y="783" class="s" font-size="21">c</text>
<text x="185.5" y="782.5" class="s" font-size="21">)</text>
<text x="196" y="783" class="s" font-size="20.5" textLength="125.5" lengthAdjust="spacingAndGlyphs">相变技术简图</text>
<text x="324" y="775" class="s" font-size="13" textLength="21" lengthAdjust="spacingAndGlyphs">[33]</text>
<text x="783.5" y="782" class="s" font-size="21">(</text>
<text x="792.2" y="782.5" class="s" font-size="21">d</text>
<text x="805.5" y="782" class="s" font-size="21">)</text>
<text x="816" y="782.5" class="s" font-size="20.5" textLength="125.5" lengthAdjust="spacingAndGlyphs">热管技术简图</text>
<text x="944" y="774.5" class="s" font-size="13" textLength="21" lengthAdjust="spacingAndGlyphs">[34]</text>
<text x="414" y="820" class="h" font-size="20" letter-spacing="3.6">图</text>
<text x="443.5" y="820" class="sb" font-size="21">1</text>
<text x="480.8" y="820" class="h" font-size="20" letter-spacing="3.95">各类热管理技术原理简图</text>
<rect x="328.5" y="67" width="61" height="20.5" fill="#d2d2d2"/>
<text x="333" y="82.5" class="s" font-size="13" textLength="52" lengthAdjust="spacingAndGlyphs">空气入口</text>
<rect x="415.5" y="109.5" width="61" height="20.5" fill="#d2d2d2"/>
<text x="420" y="125" class="s" font-size="13" textLength="52" lengthAdjust="spacingAndGlyphs">空气入口</text>
<text x="706.5" y="305" class="si" font-size="22">Z</text>
<text x="674" y="327.5" class="si" font-size="22">Y</text>
<text x="741" y="335" class="si" font-size="22">X</text>
<text x="610.5" y="689" class="si" font-size="22">z</text>
<text x="641" y="712" class="si" font-size="22">y</text>
<text x="600.5" y="741.5" class="si" font-size="22">o</text>
<text x="653" y="749" class="si" font-size="22">x</text>
</g>
</svg>
</body>
</html>
